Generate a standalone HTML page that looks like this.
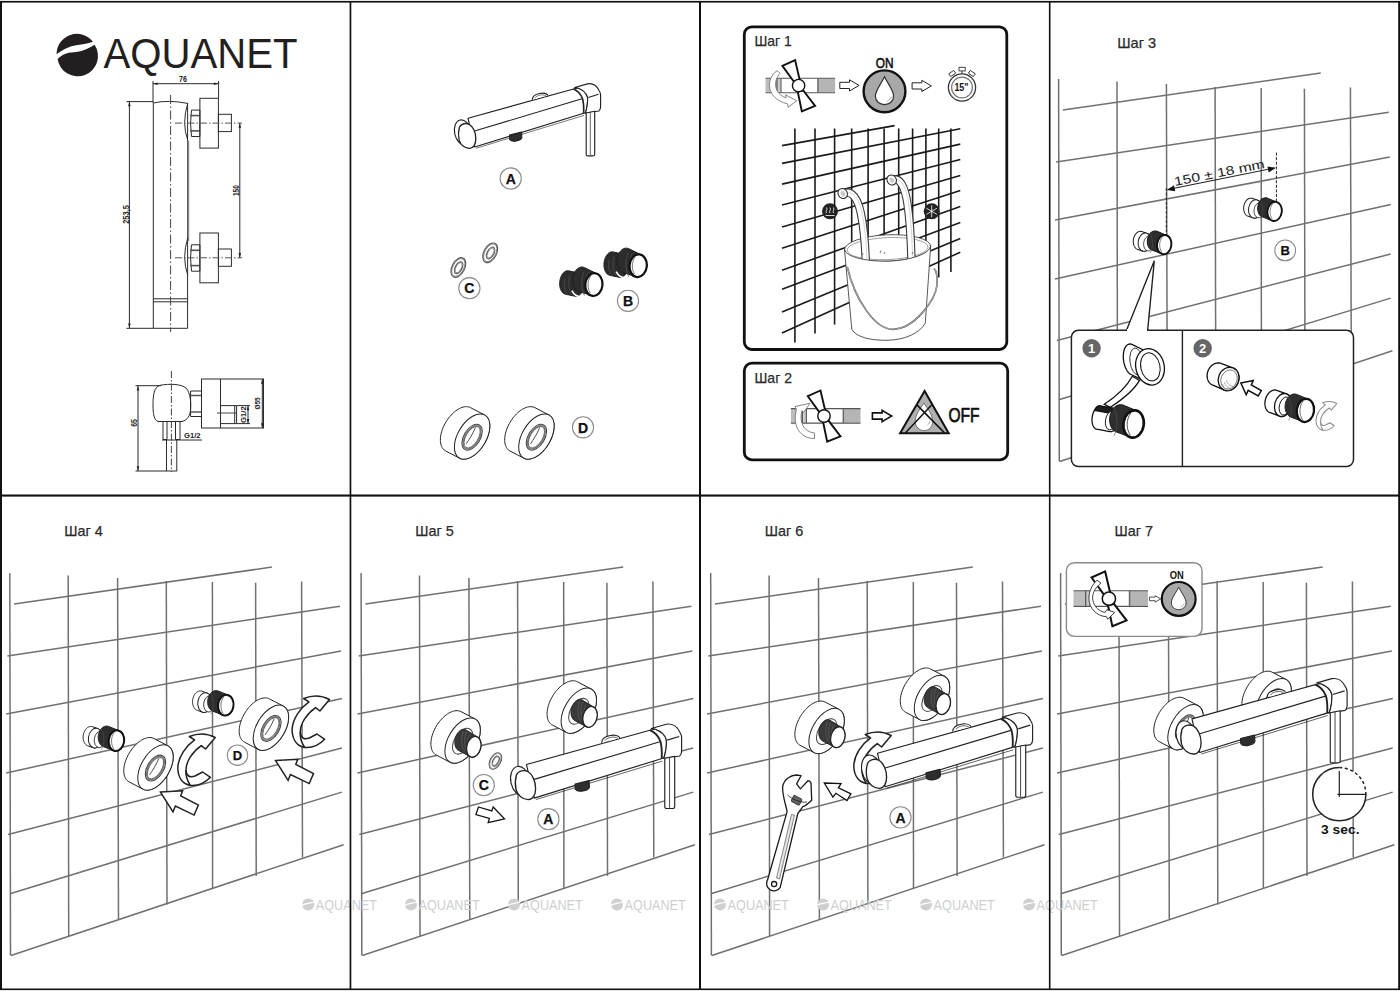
<!DOCTYPE html><html><head><meta charset="utf-8"><title>AQUANET</title><style>html,body{margin:0;padding:0;background:#fff;width:1400px;height:991px;overflow:hidden}text{font-family:"Liberation Sans", sans-serif}</style></head><body><svg width="1400" height="991" viewBox="0 0 1400 991" style="display:block;font-family:'Liberation Sans', sans-serif"><clipPath id="c1"><rect x="0" y="0" width="350" height="495"/></clipPath><clipPath id="c4"><rect x="1050.5" y="2" width="347.5" height="492"/></clipPath><clipPath id="c5"><rect x="2" y="496" width="347.5" height="493"/></clipPath><clipPath id="c6"><rect x="351" y="496" width="348" height="493"/></clipPath><clipPath id="c7"><rect x="701" y="496" width="348" height="493"/></clipPath><clipPath id="c8"><rect x="1050.5" y="496" width="347.5" height="493"/></clipPath><g clip-path="url(#c1)"><path d="M56.6,54.2 A20.3,20.3 0 0 1 93,41.8 C89,43 83,44.6 76.2,45.3 C70,46 63,49.5 56.6,54.2 Z" fill="#231f20"/><path d="M57.6,59 C61,56 63,54.5 65.7,53.7 C70,52.5 73,52.3 76.2,52.1 C80,51.5 83,50.5 86.7,49 C89.5,47.8 92,46.3 94.6,44.8 A20.3,20.3 0 1 1 57.6,59 Z" fill="#231f20"/><text x="103.5" y="68.2" font-size="42.3" fill="#231f20" textLength="194" lengthAdjust="spacingAndGlyphs">AQUANET</text><g stroke="#2a2a2a" stroke-width="1" fill="none"><line x1="153" y1="83.7" x2="218.6" y2="83.7"/><line x1="153" y1="81" x2="153" y2="103"/><line x1="218.6" y1="81" x2="218.6" y2="98.3"/><path d="M153.3,103 L153.3,328.3 L187.6,328.3 L187.6,103.5"/><path d="M153.3,103 Q168,99.6 187.8,103.4"/><line x1="153.3" y1="298.8" x2="187.6" y2="298.8"/><line x1="153.3" y1="301.8" x2="187.6" y2="301.8"/><line x1="188.4" y1="141" x2="188.4" y2="241" stroke="#888" stroke-width="1.6"/><line x1="170.6" y1="95" x2="170.6" y2="332" stroke="#444" stroke-dasharray="9 2.5 1.5 2.5"/><path d="M187.8,103.1 Q181.5,123.1 187.8,140.6"/><path d="M191.5,110.1 L199.9,110.1 L199.9,136.5 L191.5,136.5 Q189.6,123.1 191.5,110.1 Z"/><line x1="190" y1="115.6" x2="199.9" y2="115.6" stroke-width="1.6" stroke="#555"/><line x1="190" y1="130.9" x2="199.9" y2="130.9" stroke-width="1.6" stroke="#555"/><rect x="199.9" y="98.3" width="18.5" height="49.8"/><rect x="218.4" y="114.3" width="13" height="17.3"/><line x1="175" y1="123.1" x2="242" y2="123.1" stroke="#555" stroke-dasharray="7 2 1.5 2"/><path d="M187.8,237.8 Q181.5,257.8 187.8,275.3"/><path d="M191.5,244.8 L199.9,244.8 L199.9,271.2 L191.5,271.2 Q189.6,257.8 191.5,244.8 Z"/><line x1="190" y1="250.3" x2="199.9" y2="250.3" stroke-width="1.6" stroke="#555"/><line x1="190" y1="265.6" x2="199.9" y2="265.6" stroke-width="1.6" stroke="#555"/><rect x="199.9" y="233.0" width="18.5" height="49.8"/><rect x="218.4" y="249.0" width="13" height="17.3"/><line x1="175" y1="257.8" x2="242" y2="257.8" stroke="#555" stroke-dasharray="7 2 1.5 2"/><line x1="129.4" y1="101.6" x2="129.4" y2="328.3"/><line x1="126.5" y1="101.6" x2="153.3" y2="101.6"/><line x1="126.5" y1="328.3" x2="153.3" y2="328.3"/><line x1="239.8" y1="123.1" x2="239.8" y2="257.8"/></g><path d="M153.2,83.7 L157.7,82.4 L157.7,85.0 Z" fill="#222" stroke="none"/><path d="M218.4,83.7 L213.9,82.4 L213.9,85.0 Z" fill="#222" stroke="none"/><path d="M129.4,101.8 L128.1,106.3 L130.70000000000002,106.3 Z" fill="#222" stroke="none"/><path d="M129.4,328.1 L128.1,323.6 L130.70000000000002,323.6 Z" fill="#222" stroke="none"/><path d="M239.8,123.3 L238.5,127.8 L241.10000000000002,127.8 Z" fill="#222" stroke="none"/><path d="M239.8,257.6 L238.5,253.10000000000002 L241.10000000000002,253.10000000000002 Z" fill="#222" stroke="none"/><text x="179" y="81.9" font-size="8.2" font-weight="bold" fill="#222" textLength="7.9" lengthAdjust="spacingAndGlyphs">76</text><text transform="translate(129.2,223.8) rotate(-90)" font-size="9.6" font-weight="bold" fill="#222" textLength="18.7" lengthAdjust="spacingAndGlyphs">253,5</text><text transform="translate(239.4,196) rotate(-90)" font-size="9" font-weight="bold" fill="#222" textLength="10.8" lengthAdjust="spacingAndGlyphs">150</text><g stroke="#2a2a2a" stroke-width="1" fill="none"><line x1="138" y1="385.7" x2="138" y2="471"/><line x1="135.5" y1="385.7" x2="161" y2="385.7"/><line x1="135.5" y1="471" x2="177" y2="471"/><path d="M160,385.3 C170,383.5 181,384 186,388 C191,393 191,405 190.5,410 C190,415 188,420 182,421.5 L158,421.5 C154,420 153,414 153,405 C153,395 154,387 160,385.3 Z"/><line x1="171.4" y1="371" x2="171.4" y2="472" stroke="#444" stroke-dasharray="7 2 1.5 2"/><path d="M166.5,440 L166.5,471 M176.8,440 L176.8,471"/><path d="M163,421.5 L163,439.5 L167,439.5 L167,421.5 M175.5,421.5 L175.5,439.5 L180,439.5 L180,421.5"/><line x1="162" y1="440" x2="202" y2="440"/><path d="M190.6,391 L201.5,391 L201.5,416.5 L190.6,416.5 Z"/><line x1="191" y1="395.5" x2="201.5" y2="395.5" stroke-width="1.5" stroke="#555"/><line x1="191" y1="412" x2="201.5" y2="412" stroke-width="1.5" stroke="#555"/><rect x="201.5" y="379" width="62" height="49"/><line x1="220.5" y1="379" x2="220.5" y2="428"/><path d="M220.5,405.6 L236.6,405.6 L236.6,423.6 L220.5,423.6"/><line x1="234.7" y1="405.6" x2="234.7" y2="423.6"/><line x1="217" y1="413" x2="236" y2="413" stroke="#444"/><line x1="248" y1="405.6" x2="248" y2="423.6"/><line x1="236.6" y1="405.6" x2="250" y2="405.6"/><line x1="236.6" y1="423.6" x2="250" y2="423.6"/><line x1="262.3" y1="379" x2="262.3" y2="428"/></g><path d="M138,385.9 L136.7,390.4 L139.3,390.4 Z" fill="#222" stroke="none"/><path d="M138,470.8 L136.7,466.3 L139.3,466.3 Z" fill="#222" stroke="none"/><path d="M262.3,379.2 L261.0,383.7 L263.6,383.7 Z" fill="#222" stroke="none"/><path d="M262.3,427.8 L261.0,423.3 L263.6,423.3 Z" fill="#222" stroke="none"/><path d="M248,405.8 L246.7,410.3 L249.3,410.3 Z" fill="#222" stroke="none"/><path d="M248,423.4 L246.7,418.9 L249.3,418.9 Z" fill="#222" stroke="none"/><text transform="translate(137.2,426.8) rotate(-90)" font-size="8.5" font-weight="bold" fill="#222" textLength="7.7" lengthAdjust="spacingAndGlyphs">65</text><text x="183.9" y="438.4" font-size="7.4" font-weight="bold" fill="#222" textLength="16.7" lengthAdjust="spacingAndGlyphs">G1/2</text><text transform="translate(246.3,423) rotate(-90)" font-size="8" font-weight="bold" fill="#222" textLength="16.7" lengthAdjust="spacingAndGlyphs">G1/2</text><text transform="translate(259.8,409.5) rotate(-90)" font-size="7.4" font-weight="bold" fill="#222" textLength="12.2" lengthAdjust="spacingAndGlyphs">Ø55</text></g><g transform="translate(467,135.9) scale(1.0)" stroke="#222" stroke-width="1.15" fill="#fff" stroke-linejoin="round"><ellipse cx="-4.2" cy="-3.6" rx="8.2" ry="12.6" transform="rotate(-12 -4.2 -3.6)"/><path d="M1,-17.6 L106.5,-46.9 L110.7,-47.9 C116,-46 119.5,-42.5 120.5,-38.8 C121,-35 120,-27 118.3,-23.2 L7.6,11.1 Z"/><path d="M7.6,-4.9 L115,-37.1" fill="none"/><path d="M9,12.4 L117,-20.5" fill="none" stroke-width="0.6"/><path d="M65.3,-36.2 C65.5,-43 79,-44.5 80.9,-40.3" /><path d="M68,-38 C70,-41 76,-42 79,-40" fill="none" stroke-width="0.6"/><path d="M42.5,-0.8 L54.5,-3.8 L54.8,1.8 C53.5,5 45,6.8 42.7,3.5 Z" fill="#2e2e2e"/><path d="M107.7,-48.4 L120.5,-52 C126,-53 130,-49.5 131.9,-45.6 C133.2,-43.5 133.6,-42 133.6,-40.9 L133.6,-29.1 C133.6,-27 133,-25.8 131.9,-24.9 L118.3,-22.7 C120,-27 121,-35 120.5,-38.8 C119.5,-42.5 116,-46 110.7,-47.9 Z"/><path d="M106.5,-46.9 C110,-45.5 113.5,-42 115.4,-37.6 C116.5,-34 116.8,-27 116.6,-22.7" fill="none" stroke-width="1.6"/><path d="M121.3,-38.4 L131.5,-41.6" fill="none"/><path d="M119.2,-22.9 L127.7,-24.6 L127.7,18.5 C127.7,19.5 126.7,20 125.7,20 L121,20 C120,20 119.2,19.5 119.2,18.5 Z"/><path d="M123.3,-23.5 L123.3,19.5" fill="none" stroke-width="0.7"/><path d="M-7.6,-8.6 C-6,-12.4 -1,-13.2 2.2,-11.6 C6.2,-9.2 8.8,-3.2 8.8,2.8 C8.8,8.2 6.6,12.6 2.4,12.4 C-2.2,12.1 -6.6,9 -7.9,4 C-8.8,0 -8.6,-5 -7.6,-8.6 Z" stroke-width="1.35"/></g><circle cx="510.7" cy="178.5" r="10.6" fill="#fff" stroke="#8a8a8a" stroke-width="1.1"/><text x="510.7" y="183.7" font-size="14" font-weight="bold" text-anchor="middle" fill="#111" stroke="#111" stroke-width="0.25">A</text><g transform="translate(458.3,267.5) rotate(28) scale(1.0)" fill="none" stroke="#555"><ellipse rx="6.3" ry="10.6" stroke-width="1.1"/><ellipse rx="5.4" ry="9.6" stroke-width="0.6"/><ellipse cx="0.4" rx="3.4" ry="6.4" stroke-width="1.1"/><ellipse cx="0.4" rx="2.6" ry="5.5" stroke-width="0.6"/></g><g transform="translate(490.2,252.8) rotate(28) scale(1.0)" fill="none" stroke="#555"><ellipse rx="6.3" ry="10.6" stroke-width="1.1"/><ellipse rx="5.4" ry="9.6" stroke-width="0.6"/><ellipse cx="0.4" rx="3.4" ry="6.4" stroke-width="1.1"/><ellipse cx="0.4" rx="2.6" ry="5.5" stroke-width="0.6"/></g><circle cx="469.4" cy="288.2" r="10.6" fill="#fff" stroke="#8a8a8a" stroke-width="1.1"/><text x="469.4" y="293.4" font-size="14" font-weight="bold" text-anchor="middle" fill="#111" stroke="#111" stroke-width="0.25">C</text><g transform="translate(593.9,284.6) scale(1.0)" stroke="#1e1e1e" stroke-width="1"><path d="M-34.26,-1.22 L-34.23,-2.04 L-34.16,-2.86 L-34.06,-3.68 L-33.92,-4.49 L-33.74,-5.29 L-33.54,-6.07 L-33.30,-6.83 L-33.03,-7.57 L-32.73,-8.28 L-32.40,-8.97 L-32.05,-9.62 L-31.67,-10.23 L-31.27,-10.80 L-30.84,-11.33 L-30.40,-11.82 L-29.94,-12.26 L-29.46,-12.64 L-28.97,-12.98 L-28.48,-13.27 L-27.97,-13.50 L-27.46,-13.67 L-26.95,-13.79 L-26.43,-13.85 L-25.92,-13.85 L-25.41,-13.80 L-15.51,-11.70 L-15.01,-11.59 L-14.52,-11.42 L-14.05,-11.20 L-13.58,-10.93 L-13.14,-10.59 L-12.71,-10.21 L-12.30,-9.78 L-11.92,-9.30 L-11.56,-8.78 L-11.23,-8.21 L-10.92,-7.60 L-10.65,-6.96 L-10.40,-6.28 L-10.19,-5.57 L-10.01,-4.84 L-9.87,-4.08 L-9.76,-3.30 L-9.68,-2.50 L-9.64,-1.69 L-9.64,-0.88 L-9.67,-0.06 L-9.74,0.76 L-9.84,1.58 L-9.98,2.39 L-10.16,3.19 L-10.36,3.97 L-10.60,4.73 L-10.87,5.47 L-11.17,6.18 L-11.50,6.87 L-11.85,7.52 L-12.23,8.13 L-12.63,8.70 L-13.06,9.23 L-13.50,9.72 L-13.96,10.16 L-14.44,10.54 L-14.93,10.88 L-15.42,11.17 L-15.93,11.40 L-16.44,11.57 L-16.95,11.69 L-17.47,11.75 L-17.98,11.75 L-18.49,11.70 L-28.39,9.60 L-28.89,9.49 L-29.38,9.32 L-29.85,9.10 L-30.32,8.83 L-30.76,8.49 L-31.19,8.11 L-31.60,7.68 L-31.98,7.20 L-32.34,6.68 L-32.67,6.11 L-32.98,5.50 L-33.25,4.86 L-33.50,4.18 L-33.71,3.47 L-33.89,2.74 L-34.03,1.98 L-34.14,1.20 L-34.22,0.40 L-34.26,-0.41 Z" fill="#2c2c2c"/><path d="M-22,6 C-20,10 -17,12 -13,12.2" fill="none" stroke="#fff" stroke-width="1.6"/><path d="M-21.25,-4.49 L-21.22,-5.34 L-21.15,-6.20 L-21.04,-7.05 L-20.89,-7.89 L-20.70,-8.72 L-20.47,-9.54 L-20.20,-10.33 L-19.89,-11.10 L-19.55,-11.84 L-19.17,-12.54 L-18.76,-13.22 L-18.33,-13.85 L-17.86,-14.44 L-17.37,-14.99 L-16.85,-15.49 L-16.32,-15.94 L-15.76,-16.34 L-15.19,-16.69 L-14.61,-16.98 L-14.02,-17.21 L-13.42,-17.39 L-12.82,-17.50 L-12.22,-17.56 L-11.61,-17.56 L-11.02,-17.49 L-10.43,-17.37 L-9.85,-17.19 L-9.28,-16.95 L3.23,-10.78 L3.78,-10.50 L4.31,-10.18 L4.82,-9.80 L5.31,-9.37 L5.77,-8.90 L6.20,-8.38 L6.61,-7.82 L6.98,-7.23 L7.32,-6.60 L7.62,-5.94 L7.88,-5.25 L8.11,-4.53 L8.30,-3.79 L8.44,-3.03 L8.55,-2.26 L8.61,-1.48 L8.64,-0.69 L8.62,0.11 L8.55,0.90 L8.45,1.69 L8.30,2.47 L8.12,3.24 L7.89,3.99 L7.63,4.72 L7.33,5.43 L6.99,6.12 L6.62,6.77 L6.22,7.39 L5.79,7.98 L5.32,8.52 L4.84,9.03 L4.33,9.49 L3.79,9.90 L3.24,10.27 L2.68,10.58 L2.10,10.85 L1.51,11.06 L0.91,11.22 L0.31,11.32 L-0.29,11.37 L-0.89,11.36 L-1.49,11.30 L-2.08,11.18 L-2.66,11.01 L-15.35,6.59 L-15.92,6.35 L-16.47,6.06 L-17.00,5.71 L-17.50,5.30 L-17.99,4.84 L-18.45,4.34 L-18.88,3.79 L-19.28,3.19 L-19.65,2.55 L-19.98,1.87 L-20.28,1.16 L-20.53,0.42 L-20.76,-0.35 L-20.94,-1.15 L-21.08,-1.96 L-21.18,-2.79 L-21.23,-3.64 Z" fill="#2c2c2c"/><path d="M-29,-6 C-30.5,0 -29.5,6 -26,10 M-24,-9 C-26,-2 -25.5,5 -22,10.5 M-10,-13 C-13,-6 -13,4 -9.5,11 M-6,-12 C-9,-5 -9,5 -5.5,11.5" fill="none" stroke="#555" stroke-width="0.7"/><ellipse cx="0" cy="0" rx="8.6" ry="11.4" transform="rotate(6)" fill="#fff" stroke="#111" stroke-width="2.2"/><path d="M-3,-9 C-7,-3 -6.5,4 -3.5,8.5" fill="none" stroke="#555" stroke-width="0.8"/></g><g transform="translate(638.2,265.7) scale(1.0)" stroke="#1e1e1e" stroke-width="1"><path d="M-34.26,-1.22 L-34.23,-2.04 L-34.16,-2.86 L-34.06,-3.68 L-33.92,-4.49 L-33.74,-5.29 L-33.54,-6.07 L-33.30,-6.83 L-33.03,-7.57 L-32.73,-8.28 L-32.40,-8.97 L-32.05,-9.62 L-31.67,-10.23 L-31.27,-10.80 L-30.84,-11.33 L-30.40,-11.82 L-29.94,-12.26 L-29.46,-12.64 L-28.97,-12.98 L-28.48,-13.27 L-27.97,-13.50 L-27.46,-13.67 L-26.95,-13.79 L-26.43,-13.85 L-25.92,-13.85 L-25.41,-13.80 L-15.51,-11.70 L-15.01,-11.59 L-14.52,-11.42 L-14.05,-11.20 L-13.58,-10.93 L-13.14,-10.59 L-12.71,-10.21 L-12.30,-9.78 L-11.92,-9.30 L-11.56,-8.78 L-11.23,-8.21 L-10.92,-7.60 L-10.65,-6.96 L-10.40,-6.28 L-10.19,-5.57 L-10.01,-4.84 L-9.87,-4.08 L-9.76,-3.30 L-9.68,-2.50 L-9.64,-1.69 L-9.64,-0.88 L-9.67,-0.06 L-9.74,0.76 L-9.84,1.58 L-9.98,2.39 L-10.16,3.19 L-10.36,3.97 L-10.60,4.73 L-10.87,5.47 L-11.17,6.18 L-11.50,6.87 L-11.85,7.52 L-12.23,8.13 L-12.63,8.70 L-13.06,9.23 L-13.50,9.72 L-13.96,10.16 L-14.44,10.54 L-14.93,10.88 L-15.42,11.17 L-15.93,11.40 L-16.44,11.57 L-16.95,11.69 L-17.47,11.75 L-17.98,11.75 L-18.49,11.70 L-28.39,9.60 L-28.89,9.49 L-29.38,9.32 L-29.85,9.10 L-30.32,8.83 L-30.76,8.49 L-31.19,8.11 L-31.60,7.68 L-31.98,7.20 L-32.34,6.68 L-32.67,6.11 L-32.98,5.50 L-33.25,4.86 L-33.50,4.18 L-33.71,3.47 L-33.89,2.74 L-34.03,1.98 L-34.14,1.20 L-34.22,0.40 L-34.26,-0.41 Z" fill="#2c2c2c"/><path d="M-22,6 C-20,10 -17,12 -13,12.2" fill="none" stroke="#fff" stroke-width="1.6"/><path d="M-21.25,-4.49 L-21.22,-5.34 L-21.15,-6.20 L-21.04,-7.05 L-20.89,-7.89 L-20.70,-8.72 L-20.47,-9.54 L-20.20,-10.33 L-19.89,-11.10 L-19.55,-11.84 L-19.17,-12.54 L-18.76,-13.22 L-18.33,-13.85 L-17.86,-14.44 L-17.37,-14.99 L-16.85,-15.49 L-16.32,-15.94 L-15.76,-16.34 L-15.19,-16.69 L-14.61,-16.98 L-14.02,-17.21 L-13.42,-17.39 L-12.82,-17.50 L-12.22,-17.56 L-11.61,-17.56 L-11.02,-17.49 L-10.43,-17.37 L-9.85,-17.19 L-9.28,-16.95 L3.23,-10.78 L3.78,-10.50 L4.31,-10.18 L4.82,-9.80 L5.31,-9.37 L5.77,-8.90 L6.20,-8.38 L6.61,-7.82 L6.98,-7.23 L7.32,-6.60 L7.62,-5.94 L7.88,-5.25 L8.11,-4.53 L8.30,-3.79 L8.44,-3.03 L8.55,-2.26 L8.61,-1.48 L8.64,-0.69 L8.62,0.11 L8.55,0.90 L8.45,1.69 L8.30,2.47 L8.12,3.24 L7.89,3.99 L7.63,4.72 L7.33,5.43 L6.99,6.12 L6.62,6.77 L6.22,7.39 L5.79,7.98 L5.32,8.52 L4.84,9.03 L4.33,9.49 L3.79,9.90 L3.24,10.27 L2.68,10.58 L2.10,10.85 L1.51,11.06 L0.91,11.22 L0.31,11.32 L-0.29,11.37 L-0.89,11.36 L-1.49,11.30 L-2.08,11.18 L-2.66,11.01 L-15.35,6.59 L-15.92,6.35 L-16.47,6.06 L-17.00,5.71 L-17.50,5.30 L-17.99,4.84 L-18.45,4.34 L-18.88,3.79 L-19.28,3.19 L-19.65,2.55 L-19.98,1.87 L-20.28,1.16 L-20.53,0.42 L-20.76,-0.35 L-20.94,-1.15 L-21.08,-1.96 L-21.18,-2.79 L-21.23,-3.64 Z" fill="#2c2c2c"/><path d="M-29,-6 C-30.5,0 -29.5,6 -26,10 M-24,-9 C-26,-2 -25.5,5 -22,10.5 M-10,-13 C-13,-6 -13,4 -9.5,11 M-6,-12 C-9,-5 -9,5 -5.5,11.5" fill="none" stroke="#555" stroke-width="0.7"/><ellipse cx="0" cy="0" rx="8.6" ry="11.4" transform="rotate(6)" fill="#fff" stroke="#111" stroke-width="2.2"/><path d="M-3,-9 C-7,-3 -6.5,4 -3.5,8.5" fill="none" stroke="#555" stroke-width="0.8"/></g><circle cx="628" cy="300.8" r="10.6" fill="#fff" stroke="#8a8a8a" stroke-width="1.1"/><text x="628" y="306.0" font-size="14" font-weight="bold" text-anchor="middle" fill="#111" stroke="#111" stroke-width="0.25">B</text><g transform="translate(472.1,436.6) scale(1.0)" stroke="#222" stroke-width="1.00" fill="#fff"><path d="M-31.71,3.73 L-31.70,2.33 L-31.60,0.87 L-31.42,-0.62 L-31.15,-2.15 L-30.79,-3.70 L-30.36,-5.27 L-29.84,-6.84 L-29.25,-8.42 L-28.58,-10.00 L-27.85,-11.56 L-27.04,-13.10 L-26.17,-14.61 L-25.24,-16.09 L-24.26,-17.52 L-23.23,-18.91 L-22.15,-20.24 L-21.03,-21.50 L-19.88,-22.70 L-18.70,-23.82 L-17.50,-24.86 L-16.28,-25.81 L-15.05,-26.68 L-13.81,-27.45 L-12.58,-28.12 L-11.35,-28.69 L-10.13,-29.16 L-8.93,-29.51 L-7.76,-29.77 L-6.62,-29.91 L-5.52,-29.94 L-4.45,-29.86 L-3.43,-29.67 L-2.47,-29.38 L-1.56,-28.97 L12.44,-21.67 L13.29,-21.16 L14.08,-20.55 L14.79,-19.83 L15.44,-19.02 L16.01,-18.12 L16.50,-17.13 L16.91,-16.05 L17.24,-14.90 L17.48,-13.68 L17.64,-12.38 L17.71,-11.03 L17.70,-9.63 L17.60,-8.17 L17.42,-6.68 L17.15,-5.15 L16.79,-3.60 L16.36,-2.03 L15.84,-0.46 L15.25,1.12 L14.58,2.70 L13.85,4.26 L13.04,5.80 L12.17,7.31 L11.24,8.79 L10.26,10.22 L9.23,11.61 L8.15,12.94 L7.03,14.20 L5.88,15.40 L4.70,16.52 L3.50,17.56 L2.28,18.51 L1.05,19.38 L-0.19,20.15 L-1.42,20.82 L-2.65,21.39 L-3.87,21.86 L-5.07,22.21 L-6.24,22.47 L-7.38,22.61 L-8.48,22.64 L-9.55,22.56 L-10.57,22.37 L-11.53,22.08 L-12.44,21.67 L-26.44,14.37 L-27.29,13.86 L-28.08,13.25 L-28.79,12.53 L-29.44,11.72 L-30.01,10.82 L-30.50,9.83 L-30.91,8.75 L-31.24,7.60 L-31.48,6.38 L-31.64,5.08 Z"/><ellipse cx="0" cy="0" rx="14.2" ry="25.0" transform="rotate(31)"/><ellipse cx="0" cy="0.6" rx="8.2" ry="14.2" transform="rotate(31 0 0.6)" stroke="#444" stroke-width="1.1"/><ellipse cx="0" cy="0.6" rx="7.0" ry="12.9" transform="rotate(31 0 0.6)" stroke="#777" stroke-width="1.3" fill="none"/><ellipse cx="0" cy="0.6" rx="6.1" ry="12.0" transform="rotate(31 0 0.6)" stroke="#444" stroke-width="0.7" fill="none"/><path d="M3.3,-9.2 C1,-3 -3,3 -5.9,7.2" fill="none" stroke-width="0.8"/></g><g transform="translate(536.4,436.6) scale(1.0)" stroke="#222" stroke-width="1.00" fill="#fff"><path d="M-31.71,3.73 L-31.70,2.33 L-31.60,0.87 L-31.42,-0.62 L-31.15,-2.15 L-30.79,-3.70 L-30.36,-5.27 L-29.84,-6.84 L-29.25,-8.42 L-28.58,-10.00 L-27.85,-11.56 L-27.04,-13.10 L-26.17,-14.61 L-25.24,-16.09 L-24.26,-17.52 L-23.23,-18.91 L-22.15,-20.24 L-21.03,-21.50 L-19.88,-22.70 L-18.70,-23.82 L-17.50,-24.86 L-16.28,-25.81 L-15.05,-26.68 L-13.81,-27.45 L-12.58,-28.12 L-11.35,-28.69 L-10.13,-29.16 L-8.93,-29.51 L-7.76,-29.77 L-6.62,-29.91 L-5.52,-29.94 L-4.45,-29.86 L-3.43,-29.67 L-2.47,-29.38 L-1.56,-28.97 L12.44,-21.67 L13.29,-21.16 L14.08,-20.55 L14.79,-19.83 L15.44,-19.02 L16.01,-18.12 L16.50,-17.13 L16.91,-16.05 L17.24,-14.90 L17.48,-13.68 L17.64,-12.38 L17.71,-11.03 L17.70,-9.63 L17.60,-8.17 L17.42,-6.68 L17.15,-5.15 L16.79,-3.60 L16.36,-2.03 L15.84,-0.46 L15.25,1.12 L14.58,2.70 L13.85,4.26 L13.04,5.80 L12.17,7.31 L11.24,8.79 L10.26,10.22 L9.23,11.61 L8.15,12.94 L7.03,14.20 L5.88,15.40 L4.70,16.52 L3.50,17.56 L2.28,18.51 L1.05,19.38 L-0.19,20.15 L-1.42,20.82 L-2.65,21.39 L-3.87,21.86 L-5.07,22.21 L-6.24,22.47 L-7.38,22.61 L-8.48,22.64 L-9.55,22.56 L-10.57,22.37 L-11.53,22.08 L-12.44,21.67 L-26.44,14.37 L-27.29,13.86 L-28.08,13.25 L-28.79,12.53 L-29.44,11.72 L-30.01,10.82 L-30.50,9.83 L-30.91,8.75 L-31.24,7.60 L-31.48,6.38 L-31.64,5.08 Z"/><ellipse cx="0" cy="0" rx="14.2" ry="25.0" transform="rotate(31)"/><ellipse cx="0" cy="0.6" rx="8.2" ry="14.2" transform="rotate(31 0 0.6)" stroke="#444" stroke-width="1.1"/><ellipse cx="0" cy="0.6" rx="7.0" ry="12.9" transform="rotate(31 0 0.6)" stroke="#777" stroke-width="1.3" fill="none"/><ellipse cx="0" cy="0.6" rx="6.1" ry="12.0" transform="rotate(31 0 0.6)" stroke="#444" stroke-width="0.7" fill="none"/><path d="M3.3,-9.2 C1,-3 -3,3 -5.9,7.2" fill="none" stroke-width="0.8"/></g><circle cx="583" cy="427.3" r="10.6" fill="#fff" stroke="#8a8a8a" stroke-width="1.1"/><text x="583" y="432.5" font-size="14" font-weight="bold" text-anchor="middle" fill="#111" stroke="#111" stroke-width="0.25">D</text><rect x="744.3" y="26.9" width="262.5" height="322.6" rx="7.5" fill="#fff" stroke="#111" stroke-width="2.8"/><text x="754.4" y="46.3" font-size="15" fill="#2a2a2a" stroke="#2a2a2a" stroke-width="0.25" textLength="37.5" lengthAdjust="spacingAndGlyphs">Шаг 1</text><g transform="translate(798.6,85.6) scale(1.0)"><rect x="-33.1" y="-7.7" width="69.6" height="14.8" fill="#fff"/><rect x="-33.1" y="-7.2" width="11" height="13.8" fill="#bdbdbd"/><rect x="-20.5" y="-7.2" width="2.5" height="13.8" fill="#c8c8c8"/><rect x="20.2" y="-7.2" width="16.3" height="13.8" fill="#b5b5b5"/><g stroke="#555" stroke-width="1.1"><line x1="-33.1" y1="-7.4" x2="36.5" y2="-7.4"/><line x1="-33.1" y1="7.1" x2="36.5" y2="7.1"/><line x1="-21.6" y1="-7.4" x2="-21.6" y2="7.1" stroke-width="1.4"/><line x1="-17.6" y1="-7.4" x2="-17.6" y2="7.1"/><line x1="19.4" y1="-7.4" x2="19.4" y2="7.1" stroke-width="1.6" stroke="#666"/></g><path d="M-21.5,-15 L-18.5,-12.3 C-25.5,-5 -25,8 -12.5,12.3 L-13,9.2 L-2,15.2 L-10.5,21.8 L-11,18.3 C-33,13 -33,-7 -21.5,-15 Z" fill="#fff" stroke="#777" stroke-width="0.9"/><g fill="#fff" stroke="#111" stroke-width="1.9" stroke-linejoin="miter"><path d="M-16.2,-19.8 L-3.5,-25.5 L1.1,-5.8 L-4.7,-3.9 Z"/><path d="M3.2,25.7 L16.5,20.3 L4.7,4.9 L-0.9,5.9 Z"/><circle r="6.2" stroke-width="1.4"/></g></g><path transform="translate(839.8,85.4) scale(1.0)" d="M0,-3.1 L9.7,-3.1 L9.7,-5.6 L19.3,0 L9.7,5.6 L9.7,3.1 L0,3.1 Z" fill="#fff" stroke="#222" stroke-width="1.0" stroke-linejoin="miter"/><g transform="translate(884.5,91.3)"><circle r="20.9" fill="#a8a8a8" stroke="#111" stroke-width="2.4"/><g transform="scale(1.0)"><path d="M0,-14.5 C3,-8 9.1,-1 9.1,4.7 C9.1,10 5,13.3 0,13.3 C-5,13.3 -9.1,10 -9.1,4.7 C-9.1,-1 -3,-8 0,-14.5 Z" fill="#fff" stroke="#333" stroke-width="1.2"/><path d="M2.5,10 C5,9 6.5,7 6.8,5" fill="none" stroke="#999" stroke-width="0.9"/></g></g><text x="884.6" y="67.7" font-size="13.8" text-anchor="middle" fill="#111" stroke="#111" stroke-width="0.55" textLength="17.8" lengthAdjust="spacingAndGlyphs">ON</text><path transform="translate(912.1,85.9) scale(1.0)" d="M0,-3.1 L9.7,-3.1 L9.7,-5.6 L19.3,0 L9.7,5.6 L9.7,3.1 L0,3.1 Z" fill="#fff" stroke="#222" stroke-width="1.0" stroke-linejoin="miter"/><g transform="translate(962,87.5)"><rect x="-3" y="-20.2" width="6.2" height="3.6" fill="#fff" stroke="#333" stroke-width="0.9"/><line x1="0" y1="-16.6" x2="0" y2="-13.6" stroke="#333" stroke-width="1"/><rect x="-3" y="-1.8" width="6" height="3.4" transform="rotate(-35) translate(0,-17)" fill="#fff" stroke="#333" stroke-width="0.9"/><rect x="-3" y="-1.8" width="6" height="3.4" transform="rotate(35) translate(0,-17)" fill="#fff" stroke="#333" stroke-width="0.9"/><circle r="13.6" fill="#fff" stroke="#333" stroke-width="1.3"/><circle r="10.4" fill="none" stroke="#777" stroke-width="1.2"/><text x="-0.6" y="3.9" font-size="10.5" font-weight="bold" text-anchor="middle" fill="#111" textLength="14" lengthAdjust="spacingAndGlyphs">15"</text></g><g stroke="#1a1a1a" stroke-width="1.6"><line x1="794.9" y1="128.5" x2="794.9" y2="342.5"/><line x1="815.0" y1="128.5" x2="815.0" y2="333.5"/><line x1="834.6" y1="128.5" x2="834.6" y2="324.6"/><line x1="851.7" y1="128.5" x2="851.7" y2="316.9"/><line x1="868.1" y1="128.5" x2="868.1" y2="309.5"/><line x1="884.1" y1="128.5" x2="884.1" y2="302.2"/><line x1="898.7" y1="128.5" x2="898.7" y2="295.6"/><line x1="912.6" y1="128.5" x2="912.6" y2="289.3"/><line x1="925.9" y1="128.5" x2="925.9" y2="283.3"/><line x1="938.7" y1="128.5" x2="938.7" y2="277.5"/><line x1="950.9" y1="128.5" x2="950.9" y2="272.0"/><line x1="782" y1="145.6" x2="894.6" y2="125.6"/><line x1="782" y1="163.4" x2="960.3" y2="128.8"/><line x1="782" y1="184.1" x2="960.3" y2="144.1"/><line x1="782" y1="205.0" x2="960.3" y2="159.5"/><line x1="782" y1="227.0" x2="960.3" y2="175.4"/><line x1="782" y1="248.3" x2="960.3" y2="190.4"/><line x1="782" y1="270.2" x2="960.3" y2="206.5"/><line x1="782" y1="289.2" x2="960.3" y2="222.5"/><line x1="782" y1="311.9" x2="960.3" y2="238.6"/><line x1="782" y1="333.1" x2="960.3" y2="252.2"/></g><circle cx="830" cy="211.3" r="8" fill="#222"/><g stroke="#fff" stroke-width="0.8" fill="none"><path d="M826.5,213 c-1.5,-2 1.5,-3 0,-5.5 M830,213 c-1.5,-2 1.5,-3 0,-5.5 M833.5,213 c-1.5,-2 1.5,-3 0,-5.5"/><line x1="825.5" y1="215.5" x2="834.5" y2="215.5"/></g><circle cx="931.7" cy="211.3" r="8" fill="#222"/><g stroke="#fff" stroke-width="0.8"><line x1="931.7" y1="205.3" x2="931.7" y2="217.3"/><line x1="926.5" y1="208.3" x2="936.9" y2="214.3"/><line x1="926.5" y1="214.3" x2="936.9" y2="208.3"/></g><ellipse cx="887.6" cy="248" rx="43.1" ry="13.2" transform="rotate(-2.4 887.6 248)" fill="#fff" stroke="#444" stroke-width="0.9"/><ellipse cx="887.6" cy="248.6" rx="40.5" ry="11" transform="rotate(-2.4 887.6 248.6)" fill="none" stroke="#666" stroke-width="0.6"/><path d="M843,193.5 C852,189.5 858,199 861,214 C864,229 865.2,244 865.8,262" fill="none" stroke="#3a3a3a" stroke-width="8.4"/><path d="M843,193.5 C852,189.5 858,199 861,214 C864,229 865.2,244 865.8,262" fill="none" stroke="#fff" stroke-width="6.2"/><path d="M843,193.5 C852,189.5 858,199 861,214 C864,229 865.2,244 865.8,262" fill="none" stroke="#bbb" stroke-width="0.6" transform="translate(1.2,0)"/><path d="M892,180 C900,176.5 905,187 907.5,204 C910,221 911,240 911.5,262" fill="none" stroke="#3a3a3a" stroke-width="8.4"/><path d="M892,180 C900,176.5 905,187 907.5,204 C910,221 911,240 911.5,262" fill="none" stroke="#fff" stroke-width="6.2"/><path d="M892,180 C900,176.5 905,187 907.5,204 C910,221 911,240 911.5,262" fill="none" stroke="#bbb" stroke-width="0.6" transform="translate(1.2,0)"/><ellipse cx="842.7" cy="193.5" rx="4.6" ry="5.2" transform="rotate(-30 842.7 193.5)" fill="#fff" stroke="#333" stroke-width="1.1"/><ellipse cx="842.9" cy="193.7" rx="2.2" ry="2.8" transform="rotate(-30 842.9 193.7)" fill="#ccc" stroke="none"/><ellipse cx="891.7" cy="180" rx="4.6" ry="5.2" transform="rotate(-30 891.7 180)" fill="#fff" stroke="#333" stroke-width="1.1"/><ellipse cx="891.9" cy="180.2" rx="2.2" ry="2.8" transform="rotate(-30 891.9 180.2)" fill="#ccc" stroke="none"/><path d="M844.5,249.5 C846,257 866,261.5 888,261.2 C910,260.5 930,254 930.7,245.5 L925.3,323 C920,333 905,340 887,340.3 C870,340.5 856,337 851.8,329.3 Z" fill="#fff" stroke="#444" stroke-width="0.9"/><path d="M847.2,266.7 C855,300 875,329 892.6,329.3 C915,329 935,300 937.1,285 C937.5,277 936.5,271 934,268.5" fill="none" stroke="#555" stroke-width="1.7"/><path d="M847.2,266.7 C855,300 875,329 892.6,329.3 C915,329 935,300 937.1,285 C937.5,277 936.5,271 934,268.5" fill="none" stroke="#fff" stroke-width="0.5"/><path d="M862,255 l1,-2 M880,253 l1,-2.5 M884,254 l1,-2 M912,254 l1,-2" stroke="#555" stroke-width="0.8"/><rect x="744.3" y="363.2" width="263.4" height="96.6" rx="7.5" fill="#fff" stroke="#111" stroke-width="2.8"/><text x="754.5" y="383" font-size="15" fill="#2a2a2a" stroke="#2a2a2a" stroke-width="0.25" textLength="37.5" lengthAdjust="spacingAndGlyphs">Шаг 2</text><g transform="translate(824,416) scale(1.0)"><rect x="-33.1" y="-7.7" width="69.6" height="14.8" fill="#fff"/><rect x="-33.1" y="-7.2" width="11" height="13.8" fill="#bdbdbd"/><rect x="-20.5" y="-7.2" width="2.5" height="13.8" fill="#c8c8c8"/><rect x="20.2" y="-7.2" width="16.3" height="13.8" fill="#b5b5b5"/><g stroke="#555" stroke-width="1.1"><line x1="-33.1" y1="-7.4" x2="36.5" y2="-7.4"/><line x1="-33.1" y1="7.1" x2="36.5" y2="7.1"/><line x1="-21.6" y1="-7.4" x2="-21.6" y2="7.1" stroke-width="1.4"/><line x1="-17.6" y1="-7.4" x2="-17.6" y2="7.1"/><line x1="19.4" y1="-7.4" x2="19.4" y2="7.1" stroke-width="1.6" stroke="#666"/></g><path d="M-9.5,22.5 C-24,22.5 -32,10 -27.5,-6.5 L-29,-9.5 L-14,-12.7 L-20.5,-3.5 L-22,-5.5 C-25,5 -21,16 -9.5,17 Z" fill="#fff" stroke="#777" stroke-width="0.9"/><g fill="#fff" stroke="#111" stroke-width="1.9" stroke-linejoin="miter"><path d="M-16.2,-19.8 L-3.5,-25.5 L1.1,-5.8 L-4.7,-3.9 Z"/><path d="M3.2,25.7 L16.5,20.3 L4.7,4.9 L-0.9,5.9 Z"/><circle r="6.2" stroke-width="1.4"/></g></g><path transform="translate(872.4,416) scale(1.0)" d="M0,-3.1 L9.7,-3.1 L9.7,-5.6 L19.3,0 L9.7,5.6 L9.7,3.1 L0,3.1 Z" fill="#fff" stroke="#111" stroke-width="1.6" stroke-linejoin="miter"/><path d="M924.6,391.1 L948.7,433.2 L900.1,433.2 Z" fill="#b0b0b0" stroke="#111" stroke-width="2" stroke-linejoin="miter"/><path d="M923.8,403 C921,408 915.2,414 915.2,421.5 C915.2,427 919.5,430.6 924.2,430.6 C929,430.6 932.6,427 932.6,421.5 C932.6,414 927,408 923.8,403 Z" fill="#fff" stroke="#666" stroke-width="0.9"/><path d="M927.5,425 C929,424 929.8,422.5 930,421" fill="none" stroke="#888" stroke-width="0.8"/><path d="M916.9,404.9 L944.5,432.9 M931.6,404.9 L905.3,432.9" fill="none" stroke="#111" stroke-width="1.5"/><text x="948.5" y="421.6" font-size="19.8" fill="#111" stroke="#111" stroke-width="0.75" textLength="31" lengthAdjust="spacingAndGlyphs">OFF</text><g clip-path="url(#c4)"><text x="1117.2" y="47.5" font-size="15" fill="#2a2a2a" stroke="#2a2a2a" stroke-width="0.25" textLength="39" lengthAdjust="spacingAndGlyphs">Шаг 3</text><g transform="translate(1048.8,-494)" stroke="#707070" stroke-width="1.5"><line x1="9.8" y1="573" x2="10.5" y2="955.5"/><line x1="68.2" y1="575.6" x2="68.7" y2="936"/><line x1="117.6" y1="578" x2="118.5" y2="920"/><line x1="166.3" y1="581" x2="167" y2="904.5"/><line x1="212.4" y1="582.1" x2="212.6" y2="888.5"/><line x1="255.6" y1="582.7" x2="256.2" y2="876"/><line x1="301.6" y1="581.5" x2="302.5" y2="857.5"/><line x1="14.1" y1="603.9" x2="271.9" y2="567.1"/><line x1="7.4" y1="656" x2="340" y2="606.2"/><line x1="6.2" y1="713.9" x2="341" y2="651"/><line x1="6.2" y1="773" x2="342" y2="698.4"/><line x1="8" y1="834.5" x2="341.9" y2="748"/><line x1="10" y1="893.7" x2="341.9" y2="792.1"/><line x1="11" y1="955.5" x2="343.6" y2="844.7"/></g><g stroke="#222" stroke-width="1" fill="none"><line x1="1166.3" y1="188" x2="1166.3" y2="232" stroke-dasharray="3 1.6"/><line x1="1276.4" y1="152.6" x2="1276.4" y2="206" stroke-dasharray="3 1.6"/><line x1="1168" y1="189.5" x2="1274.6" y2="168" stroke-width="1.1"/></g><path d="M1166.8,189.9 L1174,185.3 L1175.2,191.3 Z" fill="#111"/><path d="M1275.8,167.8 L1268.7,172.5 L1267.5,166.5 Z" fill="#111"/><text transform="translate(1175,186) rotate(-11.4)" font-size="12.5" fill="#222" textLength="92" lengthAdjust="spacingAndGlyphs">150 ± 18 mm</text><g transform="translate(1164.2,244.6) scale(0.93)" stroke="#1e1e1e" stroke-width="1.08"><path d="M-33.27,-3.31 L-33.26,-4.00 L-33.21,-4.69 L-33.13,-5.37 L-33.02,-6.06 L-32.87,-6.73 L-32.69,-7.39 L-32.48,-8.04 L-32.24,-8.67 L-31.97,-9.28 L-31.67,-9.86 L-31.35,-10.42 L-31.00,-10.95 L-30.62,-11.45 L-30.23,-11.91 L-29.81,-12.34 L-29.38,-12.73 L-28.93,-13.07 L-28.47,-13.38 L-28.00,-13.64 L-27.52,-13.85 L-27.03,-14.02 L-26.54,-14.15 L-26.05,-14.22 L-25.55,-14.25 L-25.06,-14.23 L-24.58,-14.16 L-24.11,-14.05 L-18.91,-12.25 L-18.44,-12.09 L-17.99,-11.88 L-17.55,-11.62 L-17.13,-11.32 L-16.72,-10.98 L-16.34,-10.60 L-15.98,-10.18 L-15.65,-9.73 L-15.34,-9.23 L-15.06,-8.71 L-14.80,-8.16 L-14.58,-7.57 L-14.39,-6.97 L-14.23,-6.34 L-14.11,-5.70 L-14.01,-5.04 L-13.96,-4.37 L-13.93,-3.69 L-13.94,-3.00 L-13.99,-2.31 L-14.07,-1.63 L-14.18,-0.94 L-14.33,-0.27 L-14.51,0.39 L-14.72,1.04 L-14.96,1.67 L-15.23,2.28 L-15.53,2.86 L-15.85,3.42 L-16.20,3.95 L-16.58,4.45 L-16.97,4.91 L-17.39,5.34 L-17.82,5.73 L-18.27,6.07 L-18.73,6.38 L-19.20,6.64 L-19.68,6.85 L-20.17,7.02 L-20.66,7.15 L-21.15,7.22 L-21.65,7.25 L-22.14,7.23 L-22.62,7.16 L-23.09,7.05 L-28.29,5.25 L-28.76,5.09 L-29.21,4.88 L-29.65,4.62 L-30.07,4.32 L-30.48,3.98 L-30.86,3.60 L-31.22,3.18 L-31.55,2.73 L-31.86,2.23 L-32.14,1.71 L-32.40,1.16 L-32.62,0.57 L-32.81,-0.03 L-32.97,-0.66 L-33.09,-1.30 L-33.19,-1.96 L-33.24,-2.63 Z" fill="#fff"/><ellipse cx="-21" cy="-2.6" rx="7" ry="9.9" transform="rotate(8 -21 -2.6)" fill="#fff"/><ellipse cx="-16.5" cy="-1.3" rx="5.6" ry="8.2" transform="rotate(8 -16.5 -1.3)" fill="#fff" stroke-width="0.8"/><path d="M-18.17,-3.07 L-18.16,-3.80 L-18.11,-4.53 L-18.03,-5.26 L-17.91,-5.98 L-17.75,-6.69 L-17.56,-7.40 L-17.33,-8.08 L-17.07,-8.75 L-16.78,-9.40 L-16.46,-10.02 L-16.11,-10.61 L-15.73,-11.17 L-15.33,-11.69 L-14.90,-12.18 L-14.45,-12.63 L-13.98,-13.04 L-13.50,-13.41 L-13.00,-13.73 L-12.49,-14.01 L-11.96,-14.24 L-11.44,-14.42 L-10.90,-14.54 L-10.37,-14.62 L-9.83,-14.65 L-9.30,-14.63 L-8.78,-14.55 L-8.26,-14.43 L-7.75,-14.26 L2.75,-9.96 L3.25,-9.73 L3.73,-9.46 L4.20,-9.15 L4.64,-8.79 L5.07,-8.38 L5.46,-7.94 L5.84,-7.46 L6.18,-6.94 L6.49,-6.38 L6.77,-5.80 L7.02,-5.19 L7.23,-4.55 L7.41,-3.89 L7.55,-3.21 L7.66,-2.52 L7.73,-1.81 L7.76,-1.09 L7.75,-0.37 L7.71,0.35 L7.63,1.07 L7.51,1.79 L7.35,2.49 L7.16,3.19 L6.93,3.87 L6.67,4.53 L6.38,5.17 L6.05,5.78 L5.70,6.37 L5.32,6.92 L4.91,7.44 L4.48,7.93 L4.03,8.37 L3.55,8.78 L3.06,9.14 L2.56,9.45 L2.04,9.73 L1.51,9.95 L0.98,10.13 L0.44,10.25 L-0.10,10.33 L-0.64,10.35 L-1.18,10.33 L-1.71,10.26 L-2.24,10.13 L-2.75,9.96 L-13.25,5.86 L-13.74,5.63 L-14.22,5.36 L-14.67,5.04 L-15.11,4.68 L-15.53,4.28 L-15.92,3.83 L-16.29,3.34 L-16.62,2.82 L-16.93,2.26 L-17.20,1.67 L-17.45,1.06 L-17.66,0.41 L-17.83,-0.25 L-17.97,-0.94 L-18.07,-1.64 L-18.14,-2.35 Z" fill="#2e2e2e"/><path d="M-15,-12 C-12,-6 -11.5,4 -15,9" fill="none" stroke="#555" stroke-width="0.5"/><ellipse cx="0" cy="0" rx="7.7" ry="10.4" transform="rotate(8)" fill="#fff" stroke="#111" stroke-width="2"/><path d="M-2,-8.5 C-6,-3 -5.5,4 -2.5,8.5" fill="none" stroke="#444" stroke-width="0.7"/></g><g transform="translate(1274.6,211.4) scale(0.93)" stroke="#1e1e1e" stroke-width="1.08"><path d="M-33.27,-3.31 L-33.26,-4.00 L-33.21,-4.69 L-33.13,-5.37 L-33.02,-6.06 L-32.87,-6.73 L-32.69,-7.39 L-32.48,-8.04 L-32.24,-8.67 L-31.97,-9.28 L-31.67,-9.86 L-31.35,-10.42 L-31.00,-10.95 L-30.62,-11.45 L-30.23,-11.91 L-29.81,-12.34 L-29.38,-12.73 L-28.93,-13.07 L-28.47,-13.38 L-28.00,-13.64 L-27.52,-13.85 L-27.03,-14.02 L-26.54,-14.15 L-26.05,-14.22 L-25.55,-14.25 L-25.06,-14.23 L-24.58,-14.16 L-24.11,-14.05 L-18.91,-12.25 L-18.44,-12.09 L-17.99,-11.88 L-17.55,-11.62 L-17.13,-11.32 L-16.72,-10.98 L-16.34,-10.60 L-15.98,-10.18 L-15.65,-9.73 L-15.34,-9.23 L-15.06,-8.71 L-14.80,-8.16 L-14.58,-7.57 L-14.39,-6.97 L-14.23,-6.34 L-14.11,-5.70 L-14.01,-5.04 L-13.96,-4.37 L-13.93,-3.69 L-13.94,-3.00 L-13.99,-2.31 L-14.07,-1.63 L-14.18,-0.94 L-14.33,-0.27 L-14.51,0.39 L-14.72,1.04 L-14.96,1.67 L-15.23,2.28 L-15.53,2.86 L-15.85,3.42 L-16.20,3.95 L-16.58,4.45 L-16.97,4.91 L-17.39,5.34 L-17.82,5.73 L-18.27,6.07 L-18.73,6.38 L-19.20,6.64 L-19.68,6.85 L-20.17,7.02 L-20.66,7.15 L-21.15,7.22 L-21.65,7.25 L-22.14,7.23 L-22.62,7.16 L-23.09,7.05 L-28.29,5.25 L-28.76,5.09 L-29.21,4.88 L-29.65,4.62 L-30.07,4.32 L-30.48,3.98 L-30.86,3.60 L-31.22,3.18 L-31.55,2.73 L-31.86,2.23 L-32.14,1.71 L-32.40,1.16 L-32.62,0.57 L-32.81,-0.03 L-32.97,-0.66 L-33.09,-1.30 L-33.19,-1.96 L-33.24,-2.63 Z" fill="#fff"/><ellipse cx="-21" cy="-2.6" rx="7" ry="9.9" transform="rotate(8 -21 -2.6)" fill="#fff"/><ellipse cx="-16.5" cy="-1.3" rx="5.6" ry="8.2" transform="rotate(8 -16.5 -1.3)" fill="#fff" stroke-width="0.8"/><path d="M-18.17,-3.07 L-18.16,-3.80 L-18.11,-4.53 L-18.03,-5.26 L-17.91,-5.98 L-17.75,-6.69 L-17.56,-7.40 L-17.33,-8.08 L-17.07,-8.75 L-16.78,-9.40 L-16.46,-10.02 L-16.11,-10.61 L-15.73,-11.17 L-15.33,-11.69 L-14.90,-12.18 L-14.45,-12.63 L-13.98,-13.04 L-13.50,-13.41 L-13.00,-13.73 L-12.49,-14.01 L-11.96,-14.24 L-11.44,-14.42 L-10.90,-14.54 L-10.37,-14.62 L-9.83,-14.65 L-9.30,-14.63 L-8.78,-14.55 L-8.26,-14.43 L-7.75,-14.26 L2.75,-9.96 L3.25,-9.73 L3.73,-9.46 L4.20,-9.15 L4.64,-8.79 L5.07,-8.38 L5.46,-7.94 L5.84,-7.46 L6.18,-6.94 L6.49,-6.38 L6.77,-5.80 L7.02,-5.19 L7.23,-4.55 L7.41,-3.89 L7.55,-3.21 L7.66,-2.52 L7.73,-1.81 L7.76,-1.09 L7.75,-0.37 L7.71,0.35 L7.63,1.07 L7.51,1.79 L7.35,2.49 L7.16,3.19 L6.93,3.87 L6.67,4.53 L6.38,5.17 L6.05,5.78 L5.70,6.37 L5.32,6.92 L4.91,7.44 L4.48,7.93 L4.03,8.37 L3.55,8.78 L3.06,9.14 L2.56,9.45 L2.04,9.73 L1.51,9.95 L0.98,10.13 L0.44,10.25 L-0.10,10.33 L-0.64,10.35 L-1.18,10.33 L-1.71,10.26 L-2.24,10.13 L-2.75,9.96 L-13.25,5.86 L-13.74,5.63 L-14.22,5.36 L-14.67,5.04 L-15.11,4.68 L-15.53,4.28 L-15.92,3.83 L-16.29,3.34 L-16.62,2.82 L-16.93,2.26 L-17.20,1.67 L-17.45,1.06 L-17.66,0.41 L-17.83,-0.25 L-17.97,-0.94 L-18.07,-1.64 L-18.14,-2.35 Z" fill="#2e2e2e"/><path d="M-15,-12 C-12,-6 -11.5,4 -15,9" fill="none" stroke="#555" stroke-width="0.5"/><ellipse cx="0" cy="0" rx="7.7" ry="10.4" transform="rotate(8)" fill="#fff" stroke="#111" stroke-width="2"/><path d="M-2,-8.5 C-6,-3 -5.5,4 -2.5,8.5" fill="none" stroke="#444" stroke-width="0.7"/></g><circle cx="1285.2" cy="250.4" r="10.4" fill="#fff" stroke="#8a8a8a" stroke-width="1.1"/><text x="1285.2" y="255.2" font-size="13" font-weight="bold" text-anchor="middle" fill="#111" stroke="#111" stroke-width="0.25">B</text><path d="M1126.2,331 L1154.3,260.7 L1147.6,331" fill="#fff" stroke="#222" stroke-width="1.4" stroke-linejoin="miter"/><rect x="1071.4" y="330.3" width="282.1" height="136.3" rx="7" fill="#fff" stroke="#222" stroke-width="1.5"/><rect x="1127" y="329" width="20" height="3" fill="#fff"/><line x1="1182.4" y1="330.3" x2="1182.4" y2="466.6" stroke="#222" stroke-width="1.4"/><circle cx="1091.6" cy="348.3" r="9.2" fill="#666"/><text x="1091.6" y="353.2" font-size="13" font-weight="bold" fill="#fff" text-anchor="middle">1</text><circle cx="1202.7" cy="348.3" r="9.2" fill="#666"/><text x="1202.7" y="353.2" font-size="13" font-weight="bold" fill="#fff" text-anchor="middle">2</text><g stroke="#111" stroke-width="1.3" fill="#fff"><path d="M1132.3,376.3 C1125,390 1114,398 1104.3,404.3 L1110.4,407.3 C1120,401 1133,392 1139.5,380.4 Z"/><path d="M1123.29,356.31 L1123.31,355.26 L1123.38,354.23 L1123.49,353.23 L1123.63,352.26 L1123.81,351.32 L1124.04,350.42 L1124.29,349.57 L1124.59,348.76 L1124.91,348.01 L1125.27,347.32 L1125.66,346.68 L1126.08,346.10 L1126.52,345.59 L1126.99,345.15 L1127.48,344.78 L1127.99,344.48 L1128.51,344.25 L1129.05,344.10 L1129.61,344.02 L1130.17,344.02 L1130.74,344.09 L1131.31,344.24 L1131.88,344.46 L1141.38,348.96 L1141.95,349.26 L1142.52,349.63 L1143.08,350.06 L1143.63,350.57 L1144.17,351.14 L1144.69,351.77 L1145.19,352.47 L1145.67,353.22 L1146.13,354.02 L1146.57,354.87 L1146.98,355.76 L1147.35,356.70 L1147.70,357.67 L1148.02,358.67 L1148.30,359.70 L1148.54,360.75 L1148.75,361.81 L1148.92,362.89 L1149.05,363.97 L1149.15,365.05 L1149.20,366.12 L1149.21,367.19 L1149.19,368.24 L1149.12,369.27 L1149.01,370.27 L1148.87,371.24 L1148.69,372.18 L1148.46,373.08 L1148.21,373.93 L1147.91,374.74 L1147.59,375.49 L1147.23,376.18 L1146.84,376.82 L1146.42,377.40 L1145.98,377.91 L1145.51,378.35 L1145.02,378.72 L1144.51,379.02 L1143.99,379.25 L1143.45,379.40 L1142.89,379.48 L1142.33,379.48 L1141.76,379.41 L1141.19,379.26 L1140.62,379.04 L1131.12,374.54 L1130.55,374.24 L1129.98,373.87 L1129.42,373.44 L1128.87,372.93 L1128.33,372.36 L1127.81,371.73 L1127.31,371.03 L1126.83,370.28 L1126.37,369.48 L1125.93,368.63 L1125.52,367.74 L1125.15,366.80 L1124.80,365.83 L1124.48,364.83 L1124.20,363.80 L1123.96,362.75 L1123.75,361.69 L1123.58,360.61 L1123.45,359.53 L1123.35,358.45 L1123.30,357.38 Z"/><ellipse cx="1136.5" cy="361.5" rx="6.5" ry="13.5" transform="rotate(-8 1136.5 361.5)" stroke-width="0.8"/><ellipse cx="1150" cy="366.8" rx="14.2" ry="18.4" transform="rotate(-12 1150 366.8)"/><ellipse cx="1150.4" cy="366.8" rx="9.6" ry="14.2" transform="rotate(-12 1150.4 366.8)" stroke-width="1"/></g><g stroke="#111" stroke-width="1.3"><path d="M1092.00,419.67 L1092.02,418.86 L1092.08,418.05 L1092.18,417.23 L1092.30,416.42 L1092.46,415.61 L1092.65,414.81 L1092.88,414.03 L1093.13,413.26 L1093.41,412.52 L1093.72,411.79 L1094.05,411.10 L1094.41,410.44 L1094.79,409.81 L1095.19,409.23 L1095.61,408.68 L1096.04,408.17 L1096.49,407.72 L1096.95,407.31 L1097.43,406.95 L1097.91,406.64 L1098.39,406.38 L1098.88,406.18 L1099.37,406.04 L1099.86,405.95 L1100.34,405.92 L1100.81,405.95 L1101.28,406.03 L1114.28,408.43 L1114.74,408.57 L1115.18,408.76 L1115.61,409.01 L1116.02,409.31 L1116.41,409.67 L1116.78,410.07 L1117.12,410.53 L1117.44,411.03 L1117.74,411.57 L1118.00,412.15 L1118.24,412.78 L1118.45,413.43 L1118.62,414.12 L1118.76,414.84 L1118.87,415.59 L1118.95,416.35 L1118.99,417.14 L1119.00,417.93 L1118.98,418.74 L1118.92,419.55 L1118.82,420.37 L1118.70,421.18 L1118.54,421.99 L1118.35,422.79 L1118.12,423.57 L1117.87,424.34 L1117.59,425.08 L1117.28,425.81 L1116.95,426.50 L1116.59,427.16 L1116.21,427.79 L1115.81,428.37 L1115.39,428.92 L1114.96,429.43 L1114.51,429.88 L1114.05,430.29 L1113.57,430.65 L1113.09,430.96 L1112.61,431.22 L1112.12,431.42 L1111.63,431.56 L1111.14,431.65 L1110.66,431.68 L1110.19,431.65 L1109.72,431.57 L1096.72,429.17 L1096.26,429.03 L1095.82,428.84 L1095.39,428.59 L1094.98,428.29 L1094.59,427.93 L1094.22,427.53 L1093.88,427.07 L1093.56,426.57 L1093.26,426.03 L1093.00,425.45 L1092.76,424.82 L1092.55,424.17 L1092.38,423.48 L1092.24,422.76 L1092.13,422.01 L1092.05,421.25 L1092.01,420.46 Z" fill="#fff"/><path d="M1098.5,405.9 L1112.5,408.4 L1112,413.5 L1095,410.5 C1095.5,408 1096.5,406.5 1098.5,405.9 Z" fill="#1e1e1e"/><ellipse cx="1111" cy="420.5" rx="5.5" ry="9.5" transform="rotate(10 1111 420.5)" fill="#fff" stroke-width="0.9"/></g><g transform="translate(1133.6,424) scale(1.32)" stroke="#1e1e1e" stroke-width="0.76"><path d="M-18.17,-3.07 L-18.16,-3.80 L-18.11,-4.53 L-18.03,-5.26 L-17.91,-5.98 L-17.75,-6.69 L-17.56,-7.40 L-17.33,-8.08 L-17.07,-8.75 L-16.78,-9.40 L-16.46,-10.02 L-16.11,-10.61 L-15.73,-11.17 L-15.33,-11.69 L-14.90,-12.18 L-14.45,-12.63 L-13.98,-13.04 L-13.50,-13.41 L-13.00,-13.73 L-12.49,-14.01 L-11.96,-14.24 L-11.44,-14.42 L-10.90,-14.54 L-10.37,-14.62 L-9.83,-14.65 L-9.30,-14.63 L-8.78,-14.55 L-8.26,-14.43 L-7.75,-14.26 L2.75,-9.96 L3.25,-9.73 L3.73,-9.46 L4.20,-9.15 L4.64,-8.79 L5.07,-8.38 L5.46,-7.94 L5.84,-7.46 L6.18,-6.94 L6.49,-6.38 L6.77,-5.80 L7.02,-5.19 L7.23,-4.55 L7.41,-3.89 L7.55,-3.21 L7.66,-2.52 L7.73,-1.81 L7.76,-1.09 L7.75,-0.37 L7.71,0.35 L7.63,1.07 L7.51,1.79 L7.35,2.49 L7.16,3.19 L6.93,3.87 L6.67,4.53 L6.38,5.17 L6.05,5.78 L5.70,6.37 L5.32,6.92 L4.91,7.44 L4.48,7.93 L4.03,8.37 L3.55,8.78 L3.06,9.14 L2.56,9.45 L2.04,9.73 L1.51,9.95 L0.98,10.13 L0.44,10.25 L-0.10,10.33 L-0.64,10.35 L-1.18,10.33 L-1.71,10.26 L-2.24,10.13 L-2.75,9.96 L-13.25,5.86 L-13.74,5.63 L-14.22,5.36 L-14.67,5.04 L-15.11,4.68 L-15.53,4.28 L-15.92,3.83 L-16.29,3.34 L-16.62,2.82 L-16.93,2.26 L-17.20,1.67 L-17.45,1.06 L-17.66,0.41 L-17.83,-0.25 L-17.97,-0.94 L-18.07,-1.64 L-18.14,-2.35 Z" fill="#2e2e2e"/><path d="M-15,-12 C-12,-6 -11.5,4 -15,9" fill="none" stroke="#555" stroke-width="0.5"/><ellipse cx="0" cy="0" rx="7.7" ry="10.4" transform="rotate(8)" fill="#fff" stroke="#111" stroke-width="2"/><path d="M-2,-8.5 C-6,-3 -5.5,4 -2.5,8.5" fill="none" stroke="#444" stroke-width="0.7"/></g><g stroke="#111" stroke-width="1.3" fill="#fff"><path d="M1207.10,376.17 L1207.10,375.39 L1207.15,374.60 L1207.25,373.81 L1207.39,373.02 L1207.58,372.24 L1207.82,371.46 L1208.10,370.70 L1208.42,369.96 L1208.79,369.24 L1209.20,368.55 L1209.64,367.88 L1210.12,367.24 L1210.64,366.64 L1211.18,366.08 L1211.75,365.55 L1212.35,365.07 L1212.97,364.63 L1213.62,364.24 L1214.27,363.90 L1214.94,363.61 L1215.63,363.37 L1216.31,363.19 L1217.00,363.06 L1217.69,362.98 L1218.38,362.96 L1219.06,362.99 L1219.73,363.08 L1220.39,363.23 L1221.03,363.43 L1232.73,367.84 L1233.39,368.11 L1234.02,368.43 L1234.63,368.80 L1235.21,369.22 L1235.76,369.69 L1236.28,370.20 L1236.75,370.76 L1237.19,371.36 L1237.58,371.99 L1237.94,372.66 L1238.24,373.36 L1238.50,374.08 L1238.71,374.83 L1238.87,375.61 L1238.98,376.39 L1239.04,377.19 L1239.05,378.00 L1239.01,378.82 L1238.92,379.63 L1238.78,380.44 L1238.59,381.25 L1238.35,382.04 L1238.06,382.82 L1237.72,383.58 L1237.34,384.32 L1236.92,385.03 L1236.46,385.71 L1235.96,386.36 L1235.43,386.98 L1234.86,387.55 L1234.26,388.09 L1233.63,388.58 L1232.98,389.02 L1232.31,389.41 L1231.62,389.76 L1230.91,390.05 L1230.19,390.28 L1229.47,390.47 L1228.74,390.59 L1228.01,390.66 L1227.28,390.67 L1226.56,390.63 L1225.85,390.53 L1225.16,390.37 L1224.47,390.16 L1223.81,389.89 L1212.35,384.92 L1211.75,384.62 L1211.17,384.27 L1210.63,383.87 L1210.12,383.42 L1209.64,382.93 L1209.19,382.39 L1208.79,381.82 L1208.42,381.21 L1208.10,380.56 L1207.81,379.89 L1207.58,379.18 L1207.39,378.46 L1207.24,377.71 L1207.15,376.95 Z"/><ellipse cx="1228.6" cy="379" rx="10.2" ry="11.9" transform="rotate(22 1228.6 379)"/><ellipse cx="1229" cy="379.5" rx="8" ry="9.8" transform="rotate(22 1229 379.5)" stroke="#666" stroke-width="0.8"/><path d="M1222.5,384 C1223,388 1226,390 1229,390.5 M1224.5,382 C1225,386 1228,388 1231,388.5 M1226.5,380 C1227,384 1230,386 1233,386.5" fill="none" stroke="#888" stroke-width="0.7"/></g><path d="M1240.9,383.1 L1253.2,380.5 L1251.3,384.9 L1261.3,390.5 L1258.2,396 L1248.2,390.4 L1246.2,394.8 Z" fill="#fff" stroke="#111" stroke-width="1.5" stroke-linejoin="miter"/><g stroke="#111" stroke-width="1.3" fill="#fff"><path d="M1264.93,403.35 L1264.96,402.55 L1265.03,401.75 L1265.14,400.95 L1265.29,400.15 L1265.48,399.35 L1265.71,398.57 L1265.98,397.80 L1266.29,397.05 L1266.63,396.32 L1267.00,395.62 L1267.41,394.94 L1267.84,394.30 L1268.31,393.69 L1268.79,393.12 L1269.30,392.59 L1269.84,392.10 L1270.39,391.66 L1270.95,391.27 L1271.53,390.93 L1272.11,390.64 L1272.71,390.40 L1273.30,390.22 L1273.90,390.09 L1274.50,390.01 L1275.09,390.00 L1275.67,390.04 L1276.25,390.13 L1276.81,390.28 L1286.31,393.78 L1286.85,393.99 L1287.37,394.24 L1287.88,394.55 L1288.36,394.92 L1288.81,395.33 L1289.24,395.78 L1289.63,396.29 L1289.99,396.83 L1290.32,397.42 L1290.61,398.04 L1290.87,398.69 L1291.09,399.38 L1291.27,400.10 L1291.40,400.83 L1291.50,401.59 L1291.56,402.37 L1291.57,403.15 L1291.54,403.95 L1291.47,404.75 L1291.36,405.55 L1291.21,406.35 L1291.02,407.15 L1290.79,407.93 L1290.52,408.70 L1290.21,409.45 L1289.87,410.18 L1289.50,410.88 L1289.09,411.56 L1288.66,412.20 L1288.19,412.81 L1287.71,413.38 L1287.20,413.91 L1286.66,414.40 L1286.11,414.84 L1285.55,415.23 L1284.97,415.57 L1284.39,415.86 L1283.79,416.10 L1283.20,416.28 L1282.60,416.41 L1282.00,416.49 L1281.41,416.50 L1280.83,416.46 L1280.25,416.37 L1279.69,416.22 L1270.19,412.72 L1269.65,412.51 L1269.13,412.26 L1268.62,411.95 L1268.14,411.58 L1267.69,411.17 L1267.26,410.72 L1266.87,410.21 L1266.51,409.67 L1266.18,409.08 L1265.89,408.46 L1265.63,407.81 L1265.41,407.12 L1265.23,406.40 L1265.10,405.67 L1265.00,404.91 L1264.94,404.13 Z"/><ellipse cx="1283" cy="405" rx="8.3" ry="11.7" transform="rotate(15 1283 405)"/><ellipse cx="1285" cy="406" rx="5.6" ry="9.2" transform="rotate(15 1285 406)" stroke-width="0.9"/></g><g transform="translate(1305.4,410.4) scale(1.12)" stroke="#1e1e1e" stroke-width="0.89"><path d="M-18.17,-3.07 L-18.16,-3.80 L-18.11,-4.53 L-18.03,-5.26 L-17.91,-5.98 L-17.75,-6.69 L-17.56,-7.40 L-17.33,-8.08 L-17.07,-8.75 L-16.78,-9.40 L-16.46,-10.02 L-16.11,-10.61 L-15.73,-11.17 L-15.33,-11.69 L-14.90,-12.18 L-14.45,-12.63 L-13.98,-13.04 L-13.50,-13.41 L-13.00,-13.73 L-12.49,-14.01 L-11.96,-14.24 L-11.44,-14.42 L-10.90,-14.54 L-10.37,-14.62 L-9.83,-14.65 L-9.30,-14.63 L-8.78,-14.55 L-8.26,-14.43 L-7.75,-14.26 L2.75,-9.96 L3.25,-9.73 L3.73,-9.46 L4.20,-9.15 L4.64,-8.79 L5.07,-8.38 L5.46,-7.94 L5.84,-7.46 L6.18,-6.94 L6.49,-6.38 L6.77,-5.80 L7.02,-5.19 L7.23,-4.55 L7.41,-3.89 L7.55,-3.21 L7.66,-2.52 L7.73,-1.81 L7.76,-1.09 L7.75,-0.37 L7.71,0.35 L7.63,1.07 L7.51,1.79 L7.35,2.49 L7.16,3.19 L6.93,3.87 L6.67,4.53 L6.38,5.17 L6.05,5.78 L5.70,6.37 L5.32,6.92 L4.91,7.44 L4.48,7.93 L4.03,8.37 L3.55,8.78 L3.06,9.14 L2.56,9.45 L2.04,9.73 L1.51,9.95 L0.98,10.13 L0.44,10.25 L-0.10,10.33 L-0.64,10.35 L-1.18,10.33 L-1.71,10.26 L-2.24,10.13 L-2.75,9.96 L-13.25,5.86 L-13.74,5.63 L-14.22,5.36 L-14.67,5.04 L-15.11,4.68 L-15.53,4.28 L-15.92,3.83 L-16.29,3.34 L-16.62,2.82 L-16.93,2.26 L-17.20,1.67 L-17.45,1.06 L-17.66,0.41 L-17.83,-0.25 L-17.97,-0.94 L-18.07,-1.64 L-18.14,-2.35 Z" fill="#2e2e2e"/><path d="M-15,-12 C-12,-6 -11.5,4 -15,9" fill="none" stroke="#555" stroke-width="0.5"/><ellipse cx="0" cy="0" rx="7.7" ry="10.4" transform="rotate(8)" fill="#fff" stroke="#111" stroke-width="2"/><path d="M-2,-8.5 C-6,-3 -5.5,4 -2.5,8.5" fill="none" stroke="#444" stroke-width="0.7"/></g><g transform="translate(1315.5,401.5) rotate(0) scale(0.56)" fill="#fff" stroke="#888" stroke-width="1.79" stroke-linejoin="round"><path d="M38.2,3.5 L28.6,15 L24.3,11.6 C15,18 9,28 9,36 C9,42 13,44 18,42 L25.7,38 L33.4,43.3 C28,49 20,52 13.3,51.4 C6,50 1,44 0.8,34.1 C1,23 9,12 17.6,5.9 L12.3,2.5 C20,-0.5 30,-0.8 38.2,3.5 Z"/><path d="M9,36 C8.5,41 10.5,47 13.3,51.4" fill="none"/></g></g><g clip-path="url(#c5)"><text x="64.3" y="536" font-size="15" fill="#2a2a2a" stroke="#2a2a2a" stroke-width="0.25" textLength="38.5" lengthAdjust="spacingAndGlyphs">Шаг 4</text><g transform="translate(0,0)" stroke="#707070" stroke-width="1.5"><line x1="9.8" y1="573" x2="10.5" y2="955.5"/><line x1="68.2" y1="575.6" x2="68.7" y2="936"/><line x1="117.6" y1="578" x2="118.5" y2="920"/><line x1="166.3" y1="581" x2="167" y2="904.5"/><line x1="212.4" y1="582.1" x2="212.6" y2="888.5"/><line x1="255.6" y1="582.7" x2="256.2" y2="876"/><line x1="301.6" y1="581.5" x2="302.5" y2="857.5"/><line x1="14.1" y1="603.9" x2="271.9" y2="567.1"/><line x1="7.4" y1="656" x2="340" y2="606.2"/><line x1="6.2" y1="713.9" x2="341" y2="651"/><line x1="6.2" y1="773" x2="342" y2="698.4"/><line x1="8" y1="834.5" x2="341.9" y2="748"/><line x1="10" y1="893.7" x2="341.9" y2="792.1"/><line x1="11" y1="955.5" x2="343.6" y2="844.7"/></g><g transform="translate(116.4,740.7) scale(1.0)" stroke="#1e1e1e" stroke-width="1.00"><path d="M-33.27,-3.31 L-33.26,-4.00 L-33.21,-4.69 L-33.13,-5.37 L-33.02,-6.06 L-32.87,-6.73 L-32.69,-7.39 L-32.48,-8.04 L-32.24,-8.67 L-31.97,-9.28 L-31.67,-9.86 L-31.35,-10.42 L-31.00,-10.95 L-30.62,-11.45 L-30.23,-11.91 L-29.81,-12.34 L-29.38,-12.73 L-28.93,-13.07 L-28.47,-13.38 L-28.00,-13.64 L-27.52,-13.85 L-27.03,-14.02 L-26.54,-14.15 L-26.05,-14.22 L-25.55,-14.25 L-25.06,-14.23 L-24.58,-14.16 L-24.11,-14.05 L-18.91,-12.25 L-18.44,-12.09 L-17.99,-11.88 L-17.55,-11.62 L-17.13,-11.32 L-16.72,-10.98 L-16.34,-10.60 L-15.98,-10.18 L-15.65,-9.73 L-15.34,-9.23 L-15.06,-8.71 L-14.80,-8.16 L-14.58,-7.57 L-14.39,-6.97 L-14.23,-6.34 L-14.11,-5.70 L-14.01,-5.04 L-13.96,-4.37 L-13.93,-3.69 L-13.94,-3.00 L-13.99,-2.31 L-14.07,-1.63 L-14.18,-0.94 L-14.33,-0.27 L-14.51,0.39 L-14.72,1.04 L-14.96,1.67 L-15.23,2.28 L-15.53,2.86 L-15.85,3.42 L-16.20,3.95 L-16.58,4.45 L-16.97,4.91 L-17.39,5.34 L-17.82,5.73 L-18.27,6.07 L-18.73,6.38 L-19.20,6.64 L-19.68,6.85 L-20.17,7.02 L-20.66,7.15 L-21.15,7.22 L-21.65,7.25 L-22.14,7.23 L-22.62,7.16 L-23.09,7.05 L-28.29,5.25 L-28.76,5.09 L-29.21,4.88 L-29.65,4.62 L-30.07,4.32 L-30.48,3.98 L-30.86,3.60 L-31.22,3.18 L-31.55,2.73 L-31.86,2.23 L-32.14,1.71 L-32.40,1.16 L-32.62,0.57 L-32.81,-0.03 L-32.97,-0.66 L-33.09,-1.30 L-33.19,-1.96 L-33.24,-2.63 Z" fill="#fff"/><ellipse cx="-21" cy="-2.6" rx="7" ry="9.9" transform="rotate(8 -21 -2.6)" fill="#fff"/><ellipse cx="-16.5" cy="-1.3" rx="5.6" ry="8.2" transform="rotate(8 -16.5 -1.3)" fill="#fff" stroke-width="0.8"/><path d="M-18.17,-3.07 L-18.16,-3.80 L-18.11,-4.53 L-18.03,-5.26 L-17.91,-5.98 L-17.75,-6.69 L-17.56,-7.40 L-17.33,-8.08 L-17.07,-8.75 L-16.78,-9.40 L-16.46,-10.02 L-16.11,-10.61 L-15.73,-11.17 L-15.33,-11.69 L-14.90,-12.18 L-14.45,-12.63 L-13.98,-13.04 L-13.50,-13.41 L-13.00,-13.73 L-12.49,-14.01 L-11.96,-14.24 L-11.44,-14.42 L-10.90,-14.54 L-10.37,-14.62 L-9.83,-14.65 L-9.30,-14.63 L-8.78,-14.55 L-8.26,-14.43 L-7.75,-14.26 L2.75,-9.96 L3.25,-9.73 L3.73,-9.46 L4.20,-9.15 L4.64,-8.79 L5.07,-8.38 L5.46,-7.94 L5.84,-7.46 L6.18,-6.94 L6.49,-6.38 L6.77,-5.80 L7.02,-5.19 L7.23,-4.55 L7.41,-3.89 L7.55,-3.21 L7.66,-2.52 L7.73,-1.81 L7.76,-1.09 L7.75,-0.37 L7.71,0.35 L7.63,1.07 L7.51,1.79 L7.35,2.49 L7.16,3.19 L6.93,3.87 L6.67,4.53 L6.38,5.17 L6.05,5.78 L5.70,6.37 L5.32,6.92 L4.91,7.44 L4.48,7.93 L4.03,8.37 L3.55,8.78 L3.06,9.14 L2.56,9.45 L2.04,9.73 L1.51,9.95 L0.98,10.13 L0.44,10.25 L-0.10,10.33 L-0.64,10.35 L-1.18,10.33 L-1.71,10.26 L-2.24,10.13 L-2.75,9.96 L-13.25,5.86 L-13.74,5.63 L-14.22,5.36 L-14.67,5.04 L-15.11,4.68 L-15.53,4.28 L-15.92,3.83 L-16.29,3.34 L-16.62,2.82 L-16.93,2.26 L-17.20,1.67 L-17.45,1.06 L-17.66,0.41 L-17.83,-0.25 L-17.97,-0.94 L-18.07,-1.64 L-18.14,-2.35 Z" fill="#2e2e2e"/><path d="M-15,-12 C-12,-6 -11.5,4 -15,9" fill="none" stroke="#555" stroke-width="0.5"/><ellipse cx="0" cy="0" rx="7.7" ry="10.4" transform="rotate(8)" fill="#fff" stroke="#111" stroke-width="2"/><path d="M-2,-8.5 C-6,-3 -5.5,4 -2.5,8.5" fill="none" stroke="#444" stroke-width="0.7"/></g><g transform="translate(225.8,705.2) scale(1.0)" stroke="#1e1e1e" stroke-width="1.00"><path d="M-33.27,-3.31 L-33.26,-4.00 L-33.21,-4.69 L-33.13,-5.37 L-33.02,-6.06 L-32.87,-6.73 L-32.69,-7.39 L-32.48,-8.04 L-32.24,-8.67 L-31.97,-9.28 L-31.67,-9.86 L-31.35,-10.42 L-31.00,-10.95 L-30.62,-11.45 L-30.23,-11.91 L-29.81,-12.34 L-29.38,-12.73 L-28.93,-13.07 L-28.47,-13.38 L-28.00,-13.64 L-27.52,-13.85 L-27.03,-14.02 L-26.54,-14.15 L-26.05,-14.22 L-25.55,-14.25 L-25.06,-14.23 L-24.58,-14.16 L-24.11,-14.05 L-18.91,-12.25 L-18.44,-12.09 L-17.99,-11.88 L-17.55,-11.62 L-17.13,-11.32 L-16.72,-10.98 L-16.34,-10.60 L-15.98,-10.18 L-15.65,-9.73 L-15.34,-9.23 L-15.06,-8.71 L-14.80,-8.16 L-14.58,-7.57 L-14.39,-6.97 L-14.23,-6.34 L-14.11,-5.70 L-14.01,-5.04 L-13.96,-4.37 L-13.93,-3.69 L-13.94,-3.00 L-13.99,-2.31 L-14.07,-1.63 L-14.18,-0.94 L-14.33,-0.27 L-14.51,0.39 L-14.72,1.04 L-14.96,1.67 L-15.23,2.28 L-15.53,2.86 L-15.85,3.42 L-16.20,3.95 L-16.58,4.45 L-16.97,4.91 L-17.39,5.34 L-17.82,5.73 L-18.27,6.07 L-18.73,6.38 L-19.20,6.64 L-19.68,6.85 L-20.17,7.02 L-20.66,7.15 L-21.15,7.22 L-21.65,7.25 L-22.14,7.23 L-22.62,7.16 L-23.09,7.05 L-28.29,5.25 L-28.76,5.09 L-29.21,4.88 L-29.65,4.62 L-30.07,4.32 L-30.48,3.98 L-30.86,3.60 L-31.22,3.18 L-31.55,2.73 L-31.86,2.23 L-32.14,1.71 L-32.40,1.16 L-32.62,0.57 L-32.81,-0.03 L-32.97,-0.66 L-33.09,-1.30 L-33.19,-1.96 L-33.24,-2.63 Z" fill="#fff"/><ellipse cx="-21" cy="-2.6" rx="7" ry="9.9" transform="rotate(8 -21 -2.6)" fill="#fff"/><ellipse cx="-16.5" cy="-1.3" rx="5.6" ry="8.2" transform="rotate(8 -16.5 -1.3)" fill="#fff" stroke-width="0.8"/><path d="M-18.17,-3.07 L-18.16,-3.80 L-18.11,-4.53 L-18.03,-5.26 L-17.91,-5.98 L-17.75,-6.69 L-17.56,-7.40 L-17.33,-8.08 L-17.07,-8.75 L-16.78,-9.40 L-16.46,-10.02 L-16.11,-10.61 L-15.73,-11.17 L-15.33,-11.69 L-14.90,-12.18 L-14.45,-12.63 L-13.98,-13.04 L-13.50,-13.41 L-13.00,-13.73 L-12.49,-14.01 L-11.96,-14.24 L-11.44,-14.42 L-10.90,-14.54 L-10.37,-14.62 L-9.83,-14.65 L-9.30,-14.63 L-8.78,-14.55 L-8.26,-14.43 L-7.75,-14.26 L2.75,-9.96 L3.25,-9.73 L3.73,-9.46 L4.20,-9.15 L4.64,-8.79 L5.07,-8.38 L5.46,-7.94 L5.84,-7.46 L6.18,-6.94 L6.49,-6.38 L6.77,-5.80 L7.02,-5.19 L7.23,-4.55 L7.41,-3.89 L7.55,-3.21 L7.66,-2.52 L7.73,-1.81 L7.76,-1.09 L7.75,-0.37 L7.71,0.35 L7.63,1.07 L7.51,1.79 L7.35,2.49 L7.16,3.19 L6.93,3.87 L6.67,4.53 L6.38,5.17 L6.05,5.78 L5.70,6.37 L5.32,6.92 L4.91,7.44 L4.48,7.93 L4.03,8.37 L3.55,8.78 L3.06,9.14 L2.56,9.45 L2.04,9.73 L1.51,9.95 L0.98,10.13 L0.44,10.25 L-0.10,10.33 L-0.64,10.35 L-1.18,10.33 L-1.71,10.26 L-2.24,10.13 L-2.75,9.96 L-13.25,5.86 L-13.74,5.63 L-14.22,5.36 L-14.67,5.04 L-15.11,4.68 L-15.53,4.28 L-15.92,3.83 L-16.29,3.34 L-16.62,2.82 L-16.93,2.26 L-17.20,1.67 L-17.45,1.06 L-17.66,0.41 L-17.83,-0.25 L-17.97,-0.94 L-18.07,-1.64 L-18.14,-2.35 Z" fill="#2e2e2e"/><path d="M-15,-12 C-12,-6 -11.5,4 -15,9" fill="none" stroke="#555" stroke-width="0.5"/><ellipse cx="0" cy="0" rx="7.7" ry="10.4" transform="rotate(8)" fill="#fff" stroke="#111" stroke-width="2"/><path d="M-2,-8.5 C-6,-3 -5.5,4 -2.5,8.5" fill="none" stroke="#444" stroke-width="0.7"/></g><g transform="translate(155.5,767.5) scale(1.0)" stroke="#222" stroke-width="1.00" fill="#fff"><path d="M-31.71,3.73 L-31.70,2.33 L-31.60,0.87 L-31.42,-0.62 L-31.15,-2.15 L-30.79,-3.70 L-30.36,-5.27 L-29.84,-6.84 L-29.25,-8.42 L-28.58,-10.00 L-27.85,-11.56 L-27.04,-13.10 L-26.17,-14.61 L-25.24,-16.09 L-24.26,-17.52 L-23.23,-18.91 L-22.15,-20.24 L-21.03,-21.50 L-19.88,-22.70 L-18.70,-23.82 L-17.50,-24.86 L-16.28,-25.81 L-15.05,-26.68 L-13.81,-27.45 L-12.58,-28.12 L-11.35,-28.69 L-10.13,-29.16 L-8.93,-29.51 L-7.76,-29.77 L-6.62,-29.91 L-5.52,-29.94 L-4.45,-29.86 L-3.43,-29.67 L-2.47,-29.38 L-1.56,-28.97 L12.44,-21.67 L13.29,-21.16 L14.08,-20.55 L14.79,-19.83 L15.44,-19.02 L16.01,-18.12 L16.50,-17.13 L16.91,-16.05 L17.24,-14.90 L17.48,-13.68 L17.64,-12.38 L17.71,-11.03 L17.70,-9.63 L17.60,-8.17 L17.42,-6.68 L17.15,-5.15 L16.79,-3.60 L16.36,-2.03 L15.84,-0.46 L15.25,1.12 L14.58,2.70 L13.85,4.26 L13.04,5.80 L12.17,7.31 L11.24,8.79 L10.26,10.22 L9.23,11.61 L8.15,12.94 L7.03,14.20 L5.88,15.40 L4.70,16.52 L3.50,17.56 L2.28,18.51 L1.05,19.38 L-0.19,20.15 L-1.42,20.82 L-2.65,21.39 L-3.87,21.86 L-5.07,22.21 L-6.24,22.47 L-7.38,22.61 L-8.48,22.64 L-9.55,22.56 L-10.57,22.37 L-11.53,22.08 L-12.44,21.67 L-26.44,14.37 L-27.29,13.86 L-28.08,13.25 L-28.79,12.53 L-29.44,11.72 L-30.01,10.82 L-30.50,9.83 L-30.91,8.75 L-31.24,7.60 L-31.48,6.38 L-31.64,5.08 Z"/><ellipse cx="0" cy="0" rx="14.2" ry="25.0" transform="rotate(31)"/><ellipse cx="0" cy="0.6" rx="8.2" ry="14.2" transform="rotate(31 0 0.6)" stroke="#444" stroke-width="1.1"/><ellipse cx="0" cy="0.6" rx="7.0" ry="12.9" transform="rotate(31 0 0.6)" stroke="#777" stroke-width="1.3" fill="none"/><ellipse cx="0" cy="0.6" rx="6.1" ry="12.0" transform="rotate(31 0 0.6)" stroke="#444" stroke-width="0.7" fill="none"/><path d="M3.3,-9.2 C1,-3 -3,3 -5.9,7.2" fill="none" stroke-width="0.8"/></g><g transform="translate(270.9,727.8) scale(1.0)" stroke="#222" stroke-width="1.00" fill="#fff"><path d="M-31.71,3.73 L-31.70,2.33 L-31.60,0.87 L-31.42,-0.62 L-31.15,-2.15 L-30.79,-3.70 L-30.36,-5.27 L-29.84,-6.84 L-29.25,-8.42 L-28.58,-10.00 L-27.85,-11.56 L-27.04,-13.10 L-26.17,-14.61 L-25.24,-16.09 L-24.26,-17.52 L-23.23,-18.91 L-22.15,-20.24 L-21.03,-21.50 L-19.88,-22.70 L-18.70,-23.82 L-17.50,-24.86 L-16.28,-25.81 L-15.05,-26.68 L-13.81,-27.45 L-12.58,-28.12 L-11.35,-28.69 L-10.13,-29.16 L-8.93,-29.51 L-7.76,-29.77 L-6.62,-29.91 L-5.52,-29.94 L-4.45,-29.86 L-3.43,-29.67 L-2.47,-29.38 L-1.56,-28.97 L12.44,-21.67 L13.29,-21.16 L14.08,-20.55 L14.79,-19.83 L15.44,-19.02 L16.01,-18.12 L16.50,-17.13 L16.91,-16.05 L17.24,-14.90 L17.48,-13.68 L17.64,-12.38 L17.71,-11.03 L17.70,-9.63 L17.60,-8.17 L17.42,-6.68 L17.15,-5.15 L16.79,-3.60 L16.36,-2.03 L15.84,-0.46 L15.25,1.12 L14.58,2.70 L13.85,4.26 L13.04,5.80 L12.17,7.31 L11.24,8.79 L10.26,10.22 L9.23,11.61 L8.15,12.94 L7.03,14.20 L5.88,15.40 L4.70,16.52 L3.50,17.56 L2.28,18.51 L1.05,19.38 L-0.19,20.15 L-1.42,20.82 L-2.65,21.39 L-3.87,21.86 L-5.07,22.21 L-6.24,22.47 L-7.38,22.61 L-8.48,22.64 L-9.55,22.56 L-10.57,22.37 L-11.53,22.08 L-12.44,21.67 L-26.44,14.37 L-27.29,13.86 L-28.08,13.25 L-28.79,12.53 L-29.44,11.72 L-30.01,10.82 L-30.50,9.83 L-30.91,8.75 L-31.24,7.60 L-31.48,6.38 L-31.64,5.08 Z"/><ellipse cx="0" cy="0" rx="14.2" ry="25.0" transform="rotate(31)"/><ellipse cx="0" cy="0.6" rx="8.2" ry="14.2" transform="rotate(31 0 0.6)" stroke="#444" stroke-width="1.1"/><ellipse cx="0" cy="0.6" rx="7.0" ry="12.9" transform="rotate(31 0 0.6)" stroke="#777" stroke-width="1.3" fill="none"/><ellipse cx="0" cy="0.6" rx="6.1" ry="12.0" transform="rotate(31 0 0.6)" stroke="#444" stroke-width="0.7" fill="none"/><path d="M3.3,-9.2 C1,-3 -3,3 -5.9,7.2" fill="none" stroke-width="0.8"/></g><g transform="translate(177,734) rotate(0) scale(1.0)" fill="#fff" stroke="#222" stroke-width="1.50" stroke-linejoin="round"><path d="M38.2,3.5 L28.6,15 L24.3,11.6 C15,18 9,28 9,36 C9,42 13,44 18,42 L25.7,38 L33.4,43.3 C28,49 20,52 13.3,51.4 C6,50 1,44 0.8,34.1 C1,23 9,12 17.6,5.9 L12.3,2.5 C20,-0.5 30,-0.8 38.2,3.5 Z"/><path d="M9,36 C8.5,41 10.5,47 13.3,51.4" fill="none"/></g><g transform="translate(291.3,696) rotate(0) scale(1.0)" fill="#fff" stroke="#222" stroke-width="1.50" stroke-linejoin="round"><path d="M38.2,3.5 L28.6,15 L24.3,11.6 C15,18 9,28 9,36 C9,42 13,44 18,42 L25.7,38 L33.4,43.3 C28,49 20,52 13.3,51.4 C6,50 1,44 0.8,34.1 C1,23 9,12 17.6,5.9 L12.3,2.5 C20,-0.5 30,-0.8 38.2,3.5 Z"/><path d="M9,36 C8.5,41 10.5,47 13.3,51.4" fill="none"/></g><g transform="translate(160.5,792.1) rotate(0) scale(1.0)" fill="#fff" stroke="#222" stroke-width="1.50" stroke-linejoin="miter"><path d="M0,0 L22.1,-1.4 L20.2,3.9 L37.9,13 L33.6,23 L14.9,13.9 L12.5,19.7 Z"/></g><g transform="translate(275.6,760.6) rotate(0) scale(1.0)" fill="#fff" stroke="#222" stroke-width="1.50" stroke-linejoin="miter"><path d="M0,0 L22.1,-1.4 L20.2,3.9 L37.9,13 L33.6,23 L14.9,13.9 L12.5,19.7 Z"/></g><circle cx="237.5" cy="755.2" r="10.2" fill="#fff" stroke="#8a8a8a" stroke-width="1.1"/><text x="237.5" y="760.0" font-size="13" font-weight="bold" text-anchor="middle" fill="#111" stroke="#111" stroke-width="0.25">D</text></g><g clip-path="url(#c6)"><text x="415.2" y="536" font-size="15" fill="#2a2a2a" stroke="#2a2a2a" stroke-width="0.25" textLength="38.5" lengthAdjust="spacingAndGlyphs">Шаг 5</text><g transform="translate(351.3,0)" stroke="#707070" stroke-width="1.5"><line x1="9.8" y1="573" x2="10.5" y2="955.5"/><line x1="68.2" y1="575.6" x2="68.7" y2="936"/><line x1="117.6" y1="578" x2="118.5" y2="920"/><line x1="166.3" y1="581" x2="167" y2="904.5"/><line x1="212.4" y1="582.1" x2="212.6" y2="888.5"/><line x1="255.6" y1="582.7" x2="256.2" y2="876"/><line x1="301.6" y1="581.5" x2="302.5" y2="857.5"/><line x1="14.1" y1="603.9" x2="271.9" y2="567.1"/><line x1="7.4" y1="656" x2="340" y2="606.2"/><line x1="6.2" y1="713.9" x2="341" y2="651"/><line x1="6.2" y1="773" x2="342" y2="698.4"/><line x1="8" y1="834.5" x2="341.9" y2="748"/><line x1="10" y1="893.7" x2="341.9" y2="792.1"/><line x1="11" y1="955.5" x2="343.6" y2="844.7"/></g><g transform="translate(462.6,740.6) scale(1.0)" stroke="#222" stroke-width="1.00" fill="#fff"><path d="M-31.71,3.73 L-31.70,2.33 L-31.60,0.87 L-31.42,-0.62 L-31.15,-2.15 L-30.79,-3.70 L-30.36,-5.27 L-29.84,-6.84 L-29.25,-8.42 L-28.58,-10.00 L-27.85,-11.56 L-27.04,-13.10 L-26.17,-14.61 L-25.24,-16.09 L-24.26,-17.52 L-23.23,-18.91 L-22.15,-20.24 L-21.03,-21.50 L-19.88,-22.70 L-18.70,-23.82 L-17.50,-24.86 L-16.28,-25.81 L-15.05,-26.68 L-13.81,-27.45 L-12.58,-28.12 L-11.35,-28.69 L-10.13,-29.16 L-8.93,-29.51 L-7.76,-29.77 L-6.62,-29.91 L-5.52,-29.94 L-4.45,-29.86 L-3.43,-29.67 L-2.47,-29.38 L-1.56,-28.97 L12.44,-21.67 L13.29,-21.16 L14.08,-20.55 L14.79,-19.83 L15.44,-19.02 L16.01,-18.12 L16.50,-17.13 L16.91,-16.05 L17.24,-14.90 L17.48,-13.68 L17.64,-12.38 L17.71,-11.03 L17.70,-9.63 L17.60,-8.17 L17.42,-6.68 L17.15,-5.15 L16.79,-3.60 L16.36,-2.03 L15.84,-0.46 L15.25,1.12 L14.58,2.70 L13.85,4.26 L13.04,5.80 L12.17,7.31 L11.24,8.79 L10.26,10.22 L9.23,11.61 L8.15,12.94 L7.03,14.20 L5.88,15.40 L4.70,16.52 L3.50,17.56 L2.28,18.51 L1.05,19.38 L-0.19,20.15 L-1.42,20.82 L-2.65,21.39 L-3.87,21.86 L-5.07,22.21 L-6.24,22.47 L-7.38,22.61 L-8.48,22.64 L-9.55,22.56 L-10.57,22.37 L-11.53,22.08 L-12.44,21.67 L-26.44,14.37 L-27.29,13.86 L-28.08,13.25 L-28.79,12.53 L-29.44,11.72 L-30.01,10.82 L-30.50,9.83 L-30.91,8.75 L-31.24,7.60 L-31.48,6.38 L-31.64,5.08 Z"/><ellipse cx="0" cy="0" rx="14.2" ry="25.0" transform="rotate(31)"/><ellipse cx="0" cy="0.6" rx="8.2" ry="14.2" transform="rotate(31 0 0.6)" stroke="#444" stroke-width="1.0"/><path d="M-7.79,1.56 L-7.76,0.81 L-7.70,0.06 L-7.60,-0.69 L-7.46,-1.44 L-7.29,-2.19 L-7.09,-2.93 L-6.86,-3.66 L-6.59,-4.38 L-6.30,-5.07 L-5.97,-5.74 L-5.62,-6.39 L-5.25,-7.01 L-4.85,-7.59 L-4.43,-8.14 L-3.99,-8.66 L-3.54,-9.13 L-3.07,-9.56 L-2.58,-9.95 L-2.09,-10.30 L-1.59,-10.59 L-1.09,-10.84 L-0.58,-11.03 L-0.07,-11.17 L0.44,-11.27 L0.94,-11.31 L1.44,-11.29 L1.92,-11.23 L2.40,-11.11 L2.86,-10.94 L3.30,-10.72 L14.90,-3.63 L15.33,-3.37 L15.74,-3.06 L16.12,-2.70 L16.48,-2.30 L16.82,-1.86 L17.12,-1.38 L17.40,-0.86 L17.65,-0.31 L17.87,0.27 L18.05,0.89 L18.20,1.52 L18.32,2.19 L18.40,2.87 L18.45,3.56 L18.46,4.27 L18.44,4.99 L18.38,5.72 L18.28,6.45 L18.15,7.17 L17.99,7.89 L17.80,8.61 L17.57,9.31 L17.31,9.99 L17.02,10.66 L16.71,11.31 L16.36,11.93 L15.99,12.52 L15.60,13.09 L15.19,13.62 L14.75,14.11 L14.30,14.56 L13.84,14.98 L13.36,15.35 L12.87,15.67 L12.38,15.95 L11.87,16.19 L11.37,16.37 L10.86,16.51 L10.35,16.59 L9.85,16.62 L9.36,16.61 L8.87,16.54 L8.40,16.42 L7.94,16.25 L7.50,16.03 L-4.30,9.72 L-4.73,9.45 L-5.13,9.13 L-5.51,8.76 L-5.87,8.35 L-6.20,7.90 L-6.50,7.40 L-6.78,6.87 L-7.02,6.30 L-7.23,5.70 L-7.41,5.06 L-7.56,4.40 L-7.67,3.72 L-7.75,3.02 L-7.79,2.29 Z" fill="#3a3a3a" stroke="#222"/><path d="M1,-9 C-2,-3 -1.5,5 2,10 M4,-9 C1,-3 1.5,5 5,11 M7,-6 C4,-1 4.5,7 8,13" fill="none" stroke="#666" stroke-width="0.6"/><ellipse cx="11.2" cy="6.2" rx="7.0" ry="10.6" transform="rotate(14 11.2 6.2)" fill="#fff" stroke="#222" stroke-width="1.3"/></g><g transform="translate(578.8,710.7) scale(1.0)" stroke="#222" stroke-width="1.00" fill="#fff"><path d="M-31.71,3.73 L-31.70,2.33 L-31.60,0.87 L-31.42,-0.62 L-31.15,-2.15 L-30.79,-3.70 L-30.36,-5.27 L-29.84,-6.84 L-29.25,-8.42 L-28.58,-10.00 L-27.85,-11.56 L-27.04,-13.10 L-26.17,-14.61 L-25.24,-16.09 L-24.26,-17.52 L-23.23,-18.91 L-22.15,-20.24 L-21.03,-21.50 L-19.88,-22.70 L-18.70,-23.82 L-17.50,-24.86 L-16.28,-25.81 L-15.05,-26.68 L-13.81,-27.45 L-12.58,-28.12 L-11.35,-28.69 L-10.13,-29.16 L-8.93,-29.51 L-7.76,-29.77 L-6.62,-29.91 L-5.52,-29.94 L-4.45,-29.86 L-3.43,-29.67 L-2.47,-29.38 L-1.56,-28.97 L12.44,-21.67 L13.29,-21.16 L14.08,-20.55 L14.79,-19.83 L15.44,-19.02 L16.01,-18.12 L16.50,-17.13 L16.91,-16.05 L17.24,-14.90 L17.48,-13.68 L17.64,-12.38 L17.71,-11.03 L17.70,-9.63 L17.60,-8.17 L17.42,-6.68 L17.15,-5.15 L16.79,-3.60 L16.36,-2.03 L15.84,-0.46 L15.25,1.12 L14.58,2.70 L13.85,4.26 L13.04,5.80 L12.17,7.31 L11.24,8.79 L10.26,10.22 L9.23,11.61 L8.15,12.94 L7.03,14.20 L5.88,15.40 L4.70,16.52 L3.50,17.56 L2.28,18.51 L1.05,19.38 L-0.19,20.15 L-1.42,20.82 L-2.65,21.39 L-3.87,21.86 L-5.07,22.21 L-6.24,22.47 L-7.38,22.61 L-8.48,22.64 L-9.55,22.56 L-10.57,22.37 L-11.53,22.08 L-12.44,21.67 L-26.44,14.37 L-27.29,13.86 L-28.08,13.25 L-28.79,12.53 L-29.44,11.72 L-30.01,10.82 L-30.50,9.83 L-30.91,8.75 L-31.24,7.60 L-31.48,6.38 L-31.64,5.08 Z"/><ellipse cx="0" cy="0" rx="14.2" ry="25.0" transform="rotate(31)"/><ellipse cx="0" cy="0.6" rx="8.2" ry="14.2" transform="rotate(31 0 0.6)" stroke="#444" stroke-width="1.0"/><path d="M-7.79,1.56 L-7.76,0.81 L-7.70,0.06 L-7.60,-0.69 L-7.46,-1.44 L-7.29,-2.19 L-7.09,-2.93 L-6.86,-3.66 L-6.59,-4.38 L-6.30,-5.07 L-5.97,-5.74 L-5.62,-6.39 L-5.25,-7.01 L-4.85,-7.59 L-4.43,-8.14 L-3.99,-8.66 L-3.54,-9.13 L-3.07,-9.56 L-2.58,-9.95 L-2.09,-10.30 L-1.59,-10.59 L-1.09,-10.84 L-0.58,-11.03 L-0.07,-11.17 L0.44,-11.27 L0.94,-11.31 L1.44,-11.29 L1.92,-11.23 L2.40,-11.11 L2.86,-10.94 L3.30,-10.72 L14.90,-3.63 L15.33,-3.37 L15.74,-3.06 L16.12,-2.70 L16.48,-2.30 L16.82,-1.86 L17.12,-1.38 L17.40,-0.86 L17.65,-0.31 L17.87,0.27 L18.05,0.89 L18.20,1.52 L18.32,2.19 L18.40,2.87 L18.45,3.56 L18.46,4.27 L18.44,4.99 L18.38,5.72 L18.28,6.45 L18.15,7.17 L17.99,7.89 L17.80,8.61 L17.57,9.31 L17.31,9.99 L17.02,10.66 L16.71,11.31 L16.36,11.93 L15.99,12.52 L15.60,13.09 L15.19,13.62 L14.75,14.11 L14.30,14.56 L13.84,14.98 L13.36,15.35 L12.87,15.67 L12.38,15.95 L11.87,16.19 L11.37,16.37 L10.86,16.51 L10.35,16.59 L9.85,16.62 L9.36,16.61 L8.87,16.54 L8.40,16.42 L7.94,16.25 L7.50,16.03 L-4.30,9.72 L-4.73,9.45 L-5.13,9.13 L-5.51,8.76 L-5.87,8.35 L-6.20,7.90 L-6.50,7.40 L-6.78,6.87 L-7.02,6.30 L-7.23,5.70 L-7.41,5.06 L-7.56,4.40 L-7.67,3.72 L-7.75,3.02 L-7.79,2.29 Z" fill="#3a3a3a" stroke="#222"/><path d="M1,-9 C-2,-3 -1.5,5 2,10 M4,-9 C1,-3 1.5,5 5,11 M7,-6 C4,-1 4.5,7 8,13" fill="none" stroke="#666" stroke-width="0.6"/><ellipse cx="11.2" cy="6.2" rx="7.0" ry="10.6" transform="rotate(14 11.2 6.2)" fill="#fff" stroke="#222" stroke-width="1.3"/></g><g transform="translate(495.4,761) rotate(28) scale(0.85)" fill="none" stroke="#555"><ellipse rx="6.3" ry="10.6" stroke-width="1.1"/><ellipse rx="5.4" ry="9.6" stroke-width="0.6"/><ellipse cx="0.4" rx="3.4" ry="6.4" stroke-width="1.1"/><ellipse cx="0.4" rx="2.6" ry="5.5" stroke-width="0.6"/></g><circle cx="483.8" cy="785.1" r="10.6" fill="#fff" stroke="#8a8a8a" stroke-width="1.1"/><text x="483.8" y="790.3" font-size="14" font-weight="bold" text-anchor="middle" fill="#111" stroke="#111" stroke-width="0.25">C</text><path d="M478.5,807 L491.8,810.9 L493.2,807 L504.5,818.8 L488.2,822.7 L489.4,818.5 L475.9,814.5 Z" fill="#fff" stroke="#111" stroke-width="1.3" stroke-linejoin="miter"/><circle cx="548.4" cy="819.2" r="10.6" fill="#fff" stroke="#8a8a8a" stroke-width="1.1"/><text x="548.4" y="824.4" font-size="14" font-weight="bold" text-anchor="middle" fill="#111" stroke="#111" stroke-width="0.25">A</text><g transform="translate(525.3,785.1) scale(1.17)" stroke="#222" stroke-width="0.98" fill="#fff" stroke-linejoin="round"><ellipse cx="-4.2" cy="-3.6" rx="8.2" ry="12.6" transform="rotate(-12 -4.2 -3.6)"/><path d="M1,-17.6 L106.5,-46.9 L110.7,-47.9 C116,-46 119.5,-42.5 120.5,-38.8 C121,-35 120,-27 118.3,-23.2 L7.6,11.1 Z"/><path d="M7.6,-4.9 L115,-37.1" fill="none"/><path d="M9,12.4 L117,-20.5" fill="none" stroke-width="0.6"/><path d="M65.3,-36.2 C65.5,-43 79,-44.5 80.9,-40.3" /><path d="M68,-38 C70,-41 76,-42 79,-40" fill="none" stroke-width="0.6"/><path d="M42.5,-0.8 L54.5,-3.8 L54.8,1.8 C53.5,5 45,6.8 42.7,3.5 Z" fill="#2e2e2e"/><path d="M107.7,-48.4 L120.5,-52 C126,-53 130,-49.5 131.9,-45.6 C133.2,-43.5 133.6,-42 133.6,-40.9 L133.6,-29.1 C133.6,-27 133,-25.8 131.9,-24.9 L118.3,-22.7 C120,-27 121,-35 120.5,-38.8 C119.5,-42.5 116,-46 110.7,-47.9 Z"/><path d="M106.5,-46.9 C110,-45.5 113.5,-42 115.4,-37.6 C116.5,-34 116.8,-27 116.6,-22.7" fill="none" stroke-width="1.6"/><path d="M121.3,-38.4 L131.5,-41.6" fill="none"/><path d="M119.2,-22.9 L127.7,-24.6 L127.7,18.5 C127.7,19.5 126.7,20 125.7,20 L121,20 C120,20 119.2,19.5 119.2,18.5 Z"/><path d="M123.3,-23.5 L123.3,19.5" fill="none" stroke-width="0.7"/><path d="M-7.6,-8.6 C-6,-12.4 -1,-13.2 2.2,-11.6 C6.2,-9.2 8.8,-3.2 8.8,2.8 C8.8,8.2 6.6,12.6 2.4,12.4 C-2.2,12.1 -6.6,9 -7.9,4 C-8.8,0 -8.6,-5 -7.6,-8.6 Z" stroke-width="1.15"/></g></g><g clip-path="url(#c7)"><text x="764.8" y="536" font-size="15" fill="#2a2a2a" stroke="#2a2a2a" stroke-width="0.25" textLength="38.5" lengthAdjust="spacingAndGlyphs">Шаг 6</text><g transform="translate(700.9,0)" stroke="#707070" stroke-width="1.5"><line x1="9.8" y1="573" x2="10.5" y2="955.5"/><line x1="68.2" y1="575.6" x2="68.7" y2="936"/><line x1="117.6" y1="578" x2="118.5" y2="920"/><line x1="166.3" y1="581" x2="167" y2="904.5"/><line x1="212.4" y1="582.1" x2="212.6" y2="888.5"/><line x1="255.6" y1="582.7" x2="256.2" y2="876"/><line x1="301.6" y1="581.5" x2="302.5" y2="857.5"/><line x1="14.1" y1="603.9" x2="271.9" y2="567.1"/><line x1="7.4" y1="656" x2="340" y2="606.2"/><line x1="6.2" y1="713.9" x2="341" y2="651"/><line x1="6.2" y1="773" x2="342" y2="698.4"/><line x1="8" y1="834.5" x2="341.9" y2="748"/><line x1="10" y1="893.7" x2="341.9" y2="792.1"/><line x1="11" y1="955.5" x2="343.6" y2="844.7"/></g><g transform="translate(826.6,731) scale(1.0)" stroke="#222" stroke-width="1.00" fill="#fff"><path d="M-31.71,3.73 L-31.70,2.33 L-31.60,0.87 L-31.42,-0.62 L-31.15,-2.15 L-30.79,-3.70 L-30.36,-5.27 L-29.84,-6.84 L-29.25,-8.42 L-28.58,-10.00 L-27.85,-11.56 L-27.04,-13.10 L-26.17,-14.61 L-25.24,-16.09 L-24.26,-17.52 L-23.23,-18.91 L-22.15,-20.24 L-21.03,-21.50 L-19.88,-22.70 L-18.70,-23.82 L-17.50,-24.86 L-16.28,-25.81 L-15.05,-26.68 L-13.81,-27.45 L-12.58,-28.12 L-11.35,-28.69 L-10.13,-29.16 L-8.93,-29.51 L-7.76,-29.77 L-6.62,-29.91 L-5.52,-29.94 L-4.45,-29.86 L-3.43,-29.67 L-2.47,-29.38 L-1.56,-28.97 L12.44,-21.67 L13.29,-21.16 L14.08,-20.55 L14.79,-19.83 L15.44,-19.02 L16.01,-18.12 L16.50,-17.13 L16.91,-16.05 L17.24,-14.90 L17.48,-13.68 L17.64,-12.38 L17.71,-11.03 L17.70,-9.63 L17.60,-8.17 L17.42,-6.68 L17.15,-5.15 L16.79,-3.60 L16.36,-2.03 L15.84,-0.46 L15.25,1.12 L14.58,2.70 L13.85,4.26 L13.04,5.80 L12.17,7.31 L11.24,8.79 L10.26,10.22 L9.23,11.61 L8.15,12.94 L7.03,14.20 L5.88,15.40 L4.70,16.52 L3.50,17.56 L2.28,18.51 L1.05,19.38 L-0.19,20.15 L-1.42,20.82 L-2.65,21.39 L-3.87,21.86 L-5.07,22.21 L-6.24,22.47 L-7.38,22.61 L-8.48,22.64 L-9.55,22.56 L-10.57,22.37 L-11.53,22.08 L-12.44,21.67 L-26.44,14.37 L-27.29,13.86 L-28.08,13.25 L-28.79,12.53 L-29.44,11.72 L-30.01,10.82 L-30.50,9.83 L-30.91,8.75 L-31.24,7.60 L-31.48,6.38 L-31.64,5.08 Z"/><ellipse cx="0" cy="0" rx="14.2" ry="25.0" transform="rotate(31)"/><ellipse cx="0" cy="0.6" rx="8.2" ry="14.2" transform="rotate(31 0 0.6)" stroke="#444" stroke-width="1.0"/><path d="M-7.79,1.56 L-7.76,0.81 L-7.70,0.06 L-7.60,-0.69 L-7.46,-1.44 L-7.29,-2.19 L-7.09,-2.93 L-6.86,-3.66 L-6.59,-4.38 L-6.30,-5.07 L-5.97,-5.74 L-5.62,-6.39 L-5.25,-7.01 L-4.85,-7.59 L-4.43,-8.14 L-3.99,-8.66 L-3.54,-9.13 L-3.07,-9.56 L-2.58,-9.95 L-2.09,-10.30 L-1.59,-10.59 L-1.09,-10.84 L-0.58,-11.03 L-0.07,-11.17 L0.44,-11.27 L0.94,-11.31 L1.44,-11.29 L1.92,-11.23 L2.40,-11.11 L2.86,-10.94 L3.30,-10.72 L14.90,-3.63 L15.33,-3.37 L15.74,-3.06 L16.12,-2.70 L16.48,-2.30 L16.82,-1.86 L17.12,-1.38 L17.40,-0.86 L17.65,-0.31 L17.87,0.27 L18.05,0.89 L18.20,1.52 L18.32,2.19 L18.40,2.87 L18.45,3.56 L18.46,4.27 L18.44,4.99 L18.38,5.72 L18.28,6.45 L18.15,7.17 L17.99,7.89 L17.80,8.61 L17.57,9.31 L17.31,9.99 L17.02,10.66 L16.71,11.31 L16.36,11.93 L15.99,12.52 L15.60,13.09 L15.19,13.62 L14.75,14.11 L14.30,14.56 L13.84,14.98 L13.36,15.35 L12.87,15.67 L12.38,15.95 L11.87,16.19 L11.37,16.37 L10.86,16.51 L10.35,16.59 L9.85,16.62 L9.36,16.61 L8.87,16.54 L8.40,16.42 L7.94,16.25 L7.50,16.03 L-4.30,9.72 L-4.73,9.45 L-5.13,9.13 L-5.51,8.76 L-5.87,8.35 L-6.20,7.90 L-6.50,7.40 L-6.78,6.87 L-7.02,6.30 L-7.23,5.70 L-7.41,5.06 L-7.56,4.40 L-7.67,3.72 L-7.75,3.02 L-7.79,2.29 Z" fill="#3a3a3a" stroke="#222"/><path d="M1,-9 C-2,-3 -1.5,5 2,10 M4,-9 C1,-3 1.5,5 5,11 M7,-6 C4,-1 4.5,7 8,13" fill="none" stroke="#666" stroke-width="0.6"/><ellipse cx="11.2" cy="6.2" rx="7.0" ry="10.6" transform="rotate(14 11.2 6.2)" fill="#fff" stroke="#222" stroke-width="1.3"/></g><g transform="translate(932,697.9) scale(1.0)" stroke="#222" stroke-width="1.00" fill="#fff"><path d="M-31.71,3.73 L-31.70,2.33 L-31.60,0.87 L-31.42,-0.62 L-31.15,-2.15 L-30.79,-3.70 L-30.36,-5.27 L-29.84,-6.84 L-29.25,-8.42 L-28.58,-10.00 L-27.85,-11.56 L-27.04,-13.10 L-26.17,-14.61 L-25.24,-16.09 L-24.26,-17.52 L-23.23,-18.91 L-22.15,-20.24 L-21.03,-21.50 L-19.88,-22.70 L-18.70,-23.82 L-17.50,-24.86 L-16.28,-25.81 L-15.05,-26.68 L-13.81,-27.45 L-12.58,-28.12 L-11.35,-28.69 L-10.13,-29.16 L-8.93,-29.51 L-7.76,-29.77 L-6.62,-29.91 L-5.52,-29.94 L-4.45,-29.86 L-3.43,-29.67 L-2.47,-29.38 L-1.56,-28.97 L12.44,-21.67 L13.29,-21.16 L14.08,-20.55 L14.79,-19.83 L15.44,-19.02 L16.01,-18.12 L16.50,-17.13 L16.91,-16.05 L17.24,-14.90 L17.48,-13.68 L17.64,-12.38 L17.71,-11.03 L17.70,-9.63 L17.60,-8.17 L17.42,-6.68 L17.15,-5.15 L16.79,-3.60 L16.36,-2.03 L15.84,-0.46 L15.25,1.12 L14.58,2.70 L13.85,4.26 L13.04,5.80 L12.17,7.31 L11.24,8.79 L10.26,10.22 L9.23,11.61 L8.15,12.94 L7.03,14.20 L5.88,15.40 L4.70,16.52 L3.50,17.56 L2.28,18.51 L1.05,19.38 L-0.19,20.15 L-1.42,20.82 L-2.65,21.39 L-3.87,21.86 L-5.07,22.21 L-6.24,22.47 L-7.38,22.61 L-8.48,22.64 L-9.55,22.56 L-10.57,22.37 L-11.53,22.08 L-12.44,21.67 L-26.44,14.37 L-27.29,13.86 L-28.08,13.25 L-28.79,12.53 L-29.44,11.72 L-30.01,10.82 L-30.50,9.83 L-30.91,8.75 L-31.24,7.60 L-31.48,6.38 L-31.64,5.08 Z"/><ellipse cx="0" cy="0" rx="14.2" ry="25.0" transform="rotate(31)"/><ellipse cx="0" cy="0.6" rx="8.2" ry="14.2" transform="rotate(31 0 0.6)" stroke="#444" stroke-width="1.0"/><path d="M-7.79,1.56 L-7.76,0.81 L-7.70,0.06 L-7.60,-0.69 L-7.46,-1.44 L-7.29,-2.19 L-7.09,-2.93 L-6.86,-3.66 L-6.59,-4.38 L-6.30,-5.07 L-5.97,-5.74 L-5.62,-6.39 L-5.25,-7.01 L-4.85,-7.59 L-4.43,-8.14 L-3.99,-8.66 L-3.54,-9.13 L-3.07,-9.56 L-2.58,-9.95 L-2.09,-10.30 L-1.59,-10.59 L-1.09,-10.84 L-0.58,-11.03 L-0.07,-11.17 L0.44,-11.27 L0.94,-11.31 L1.44,-11.29 L1.92,-11.23 L2.40,-11.11 L2.86,-10.94 L3.30,-10.72 L14.90,-3.63 L15.33,-3.37 L15.74,-3.06 L16.12,-2.70 L16.48,-2.30 L16.82,-1.86 L17.12,-1.38 L17.40,-0.86 L17.65,-0.31 L17.87,0.27 L18.05,0.89 L18.20,1.52 L18.32,2.19 L18.40,2.87 L18.45,3.56 L18.46,4.27 L18.44,4.99 L18.38,5.72 L18.28,6.45 L18.15,7.17 L17.99,7.89 L17.80,8.61 L17.57,9.31 L17.31,9.99 L17.02,10.66 L16.71,11.31 L16.36,11.93 L15.99,12.52 L15.60,13.09 L15.19,13.62 L14.75,14.11 L14.30,14.56 L13.84,14.98 L13.36,15.35 L12.87,15.67 L12.38,15.95 L11.87,16.19 L11.37,16.37 L10.86,16.51 L10.35,16.59 L9.85,16.62 L9.36,16.61 L8.87,16.54 L8.40,16.42 L7.94,16.25 L7.50,16.03 L-4.30,9.72 L-4.73,9.45 L-5.13,9.13 L-5.51,8.76 L-5.87,8.35 L-6.20,7.90 L-6.50,7.40 L-6.78,6.87 L-7.02,6.30 L-7.23,5.70 L-7.41,5.06 L-7.56,4.40 L-7.67,3.72 L-7.75,3.02 L-7.79,2.29 Z" fill="#3a3a3a" stroke="#222"/><path d="M1,-9 C-2,-3 -1.5,5 2,10 M4,-9 C1,-3 1.5,5 5,11 M7,-6 C4,-1 4.5,7 8,13" fill="none" stroke="#666" stroke-width="0.6"/><ellipse cx="11.2" cy="6.2" rx="7.0" ry="10.6" transform="rotate(14 11.2 6.2)" fill="#fff" stroke="#222" stroke-width="1.3"/></g><g transform="translate(853,732) rotate(0) scale(1.0)" fill="#fff" stroke="#222" stroke-width="1.50" stroke-linejoin="round"><path d="M38.2,3.5 L28.6,15 L24.3,11.6 C15,18 9,28 9,36 C9,42 13,44 18,42 L25.7,38 L33.4,43.3 C28,49 20,52 13.3,51.4 C6,50 1,44 0.8,34.1 C1,23 9,12 17.6,5.9 L12.3,2.5 C20,-0.5 30,-0.8 38.2,3.5 Z"/><path d="M9,36 C8.5,41 10.5,47 13.3,51.4" fill="none"/></g><g transform="translate(876.3,773.8) scale(1.17)" stroke="#222" stroke-width="0.98" fill="#fff" stroke-linejoin="round"><ellipse cx="-4.2" cy="-3.6" rx="8.2" ry="12.6" transform="rotate(-12 -4.2 -3.6)"/><path d="M1,-17.6 L106.5,-46.9 L110.7,-47.9 C116,-46 119.5,-42.5 120.5,-38.8 C121,-35 120,-27 118.3,-23.2 L7.6,11.1 Z"/><path d="M7.6,-4.9 L115,-37.1" fill="none"/><path d="M9,12.4 L117,-20.5" fill="none" stroke-width="0.6"/><path d="M65.3,-36.2 C65.5,-43 79,-44.5 80.9,-40.3" /><path d="M68,-38 C70,-41 76,-42 79,-40" fill="none" stroke-width="0.6"/><path d="M42.5,-0.8 L54.5,-3.8 L54.8,1.8 C53.5,5 45,6.8 42.7,3.5 Z" fill="#2e2e2e"/><path d="M107.7,-48.4 L120.5,-52 C126,-53 130,-49.5 131.9,-45.6 C133.2,-43.5 133.6,-42 133.6,-40.9 L133.6,-29.1 C133.6,-27 133,-25.8 131.9,-24.9 L118.3,-22.7 C120,-27 121,-35 120.5,-38.8 C119.5,-42.5 116,-46 110.7,-47.9 Z"/><path d="M106.5,-46.9 C110,-45.5 113.5,-42 115.4,-37.6 C116.5,-34 116.8,-27 116.6,-22.7" fill="none" stroke-width="1.6"/><path d="M121.3,-38.4 L131.5,-41.6" fill="none"/><path d="M119.2,-22.9 L127.7,-24.6 L127.7,18.5 C127.7,19.5 126.7,20 125.7,20 L121,20 C120,20 119.2,19.5 119.2,18.5 Z"/><path d="M123.3,-23.5 L123.3,19.5" fill="none" stroke-width="0.7"/><path d="M-7.6,-8.6 C-6,-12.4 -1,-13.2 2.2,-11.6 C6.2,-9.2 8.8,-3.2 8.8,2.8 C8.8,8.2 6.6,12.6 2.4,12.4 C-2.2,12.1 -6.6,9 -7.9,4 C-8.8,0 -8.6,-5 -7.6,-8.6 Z" stroke-width="1.15"/></g><path d="M824.3,783 L841,783.5 L838.4,787.8 L850.9,793.8 L847,800.6 L835.9,793.3 L832.9,797.2 Z" fill="#fff" stroke="#111" stroke-width="1.3" stroke-linejoin="miter"/><circle cx="900.5" cy="817.4" r="10.6" fill="#fff" stroke="#8a8a8a" stroke-width="1.1"/><text x="900.5" y="822.6" font-size="14" font-weight="bold" text-anchor="middle" fill="#111" stroke="#111" stroke-width="0.25">A</text><g fill="#fff" stroke="#1a1a1a" stroke-width="1.3" stroke-linejoin="round"><path d="M767.6,879.7 L787.1,811.6 C786,805 782,795 782.7,786.4 C784,779 791,775 796.6,775 L801,775.7 L796.6,783.9 L800.4,788.9 L807.9,780.7 C810,781 811.5,782.5 811.1,786 L811.7,800.3 C808,804 805,806 802.9,806.6 L797.8,813.5 L780.2,887.3 A6.6,6.6 0 1 1 767.6,879.7 Z"/><circle cx="774.1" cy="884.1" r="2.6"/><path d="M776.5,878 L791.5,814.5 L794.5,815 L779.5,879 Z" fill="#e6e6e6" stroke="#555" stroke-width="0.7"/><rect x="-4.6" y="-3.4" width="9.2" height="6.8" rx="1.2" transform="translate(796.6,800.3) rotate(28)" fill="#666" stroke="#333" stroke-width="0.9"/><path d="M787.5,795 C792,799 800,803 807,802" fill="none" stroke-width="0.8"/></g></g><g clip-path="url(#c8)"><text x="1114.5" y="536" font-size="15" fill="#2a2a2a" stroke="#2a2a2a" stroke-width="0.25" textLength="38.5" lengthAdjust="spacingAndGlyphs">Шаг 7</text><g transform="translate(1050.8,0)" stroke="#707070" stroke-width="1.5"><line x1="9.8" y1="573" x2="10.5" y2="955.5"/><line x1="68.2" y1="575.6" x2="68.7" y2="936"/><line x1="117.6" y1="578" x2="118.5" y2="920"/><line x1="166.3" y1="581" x2="167" y2="904.5"/><line x1="212.4" y1="582.1" x2="212.6" y2="888.5"/><line x1="255.6" y1="582.7" x2="256.2" y2="876"/><line x1="301.6" y1="581.5" x2="302.5" y2="857.5"/><line x1="14.1" y1="603.9" x2="271.9" y2="567.1"/><line x1="7.4" y1="656" x2="340" y2="606.2"/><line x1="6.2" y1="713.9" x2="341" y2="651"/><line x1="6.2" y1="773" x2="342" y2="698.4"/><line x1="8" y1="834.5" x2="341.9" y2="748"/><line x1="10" y1="893.7" x2="341.9" y2="792.1"/><line x1="11" y1="955.5" x2="343.6" y2="844.7"/></g><g transform="translate(1185.5,727.2) scale(1.0)" stroke="#222" stroke-width="1.00" fill="#fff"><path d="M-31.71,3.73 L-31.70,2.33 L-31.60,0.87 L-31.42,-0.62 L-31.15,-2.15 L-30.79,-3.70 L-30.36,-5.27 L-29.84,-6.84 L-29.25,-8.42 L-28.58,-10.00 L-27.85,-11.56 L-27.04,-13.10 L-26.17,-14.61 L-25.24,-16.09 L-24.26,-17.52 L-23.23,-18.91 L-22.15,-20.24 L-21.03,-21.50 L-19.88,-22.70 L-18.70,-23.82 L-17.50,-24.86 L-16.28,-25.81 L-15.05,-26.68 L-13.81,-27.45 L-12.58,-28.12 L-11.35,-28.69 L-10.13,-29.16 L-8.93,-29.51 L-7.76,-29.77 L-6.62,-29.91 L-5.52,-29.94 L-4.45,-29.86 L-3.43,-29.67 L-2.47,-29.38 L-1.56,-28.97 L12.44,-21.67 L13.29,-21.16 L14.08,-20.55 L14.79,-19.83 L15.44,-19.02 L16.01,-18.12 L16.50,-17.13 L16.91,-16.05 L17.24,-14.90 L17.48,-13.68 L17.64,-12.38 L17.71,-11.03 L17.70,-9.63 L17.60,-8.17 L17.42,-6.68 L17.15,-5.15 L16.79,-3.60 L16.36,-2.03 L15.84,-0.46 L15.25,1.12 L14.58,2.70 L13.85,4.26 L13.04,5.80 L12.17,7.31 L11.24,8.79 L10.26,10.22 L9.23,11.61 L8.15,12.94 L7.03,14.20 L5.88,15.40 L4.70,16.52 L3.50,17.56 L2.28,18.51 L1.05,19.38 L-0.19,20.15 L-1.42,20.82 L-2.65,21.39 L-3.87,21.86 L-5.07,22.21 L-6.24,22.47 L-7.38,22.61 L-8.48,22.64 L-9.55,22.56 L-10.57,22.37 L-11.53,22.08 L-12.44,21.67 L-26.44,14.37 L-27.29,13.86 L-28.08,13.25 L-28.79,12.53 L-29.44,11.72 L-30.01,10.82 L-30.50,9.83 L-30.91,8.75 L-31.24,7.60 L-31.48,6.38 L-31.64,5.08 Z"/><ellipse cx="0" cy="0" rx="14.2" ry="25.0" transform="rotate(31)"/><ellipse cx="0" cy="0.6" rx="8.2" ry="14.2" transform="rotate(31 0 0.6)" stroke="#444" stroke-width="1.1"/><ellipse cx="0" cy="0.6" rx="7.0" ry="12.9" transform="rotate(31 0 0.6)" stroke="#777" stroke-width="1.3" fill="none"/><ellipse cx="0" cy="0.6" rx="6.1" ry="12.0" transform="rotate(31 0 0.6)" stroke="#444" stroke-width="0.7" fill="none"/><path d="M3.3,-9.2 C1,-3 -3,3 -5.9,7.2" fill="none" stroke-width="0.8"/></g><g transform="translate(1273.6,701.1) scale(1.0)" stroke="#222" stroke-width="1.00" fill="#fff"><path d="M-31.71,3.73 L-31.70,2.33 L-31.60,0.87 L-31.42,-0.62 L-31.15,-2.15 L-30.79,-3.70 L-30.36,-5.27 L-29.84,-6.84 L-29.25,-8.42 L-28.58,-10.00 L-27.85,-11.56 L-27.04,-13.10 L-26.17,-14.61 L-25.24,-16.09 L-24.26,-17.52 L-23.23,-18.91 L-22.15,-20.24 L-21.03,-21.50 L-19.88,-22.70 L-18.70,-23.82 L-17.50,-24.86 L-16.28,-25.81 L-15.05,-26.68 L-13.81,-27.45 L-12.58,-28.12 L-11.35,-28.69 L-10.13,-29.16 L-8.93,-29.51 L-7.76,-29.77 L-6.62,-29.91 L-5.52,-29.94 L-4.45,-29.86 L-3.43,-29.67 L-2.47,-29.38 L-1.56,-28.97 L12.44,-21.67 L13.29,-21.16 L14.08,-20.55 L14.79,-19.83 L15.44,-19.02 L16.01,-18.12 L16.50,-17.13 L16.91,-16.05 L17.24,-14.90 L17.48,-13.68 L17.64,-12.38 L17.71,-11.03 L17.70,-9.63 L17.60,-8.17 L17.42,-6.68 L17.15,-5.15 L16.79,-3.60 L16.36,-2.03 L15.84,-0.46 L15.25,1.12 L14.58,2.70 L13.85,4.26 L13.04,5.80 L12.17,7.31 L11.24,8.79 L10.26,10.22 L9.23,11.61 L8.15,12.94 L7.03,14.20 L5.88,15.40 L4.70,16.52 L3.50,17.56 L2.28,18.51 L1.05,19.38 L-0.19,20.15 L-1.42,20.82 L-2.65,21.39 L-3.87,21.86 L-5.07,22.21 L-6.24,22.47 L-7.38,22.61 L-8.48,22.64 L-9.55,22.56 L-10.57,22.37 L-11.53,22.08 L-12.44,21.67 L-26.44,14.37 L-27.29,13.86 L-28.08,13.25 L-28.79,12.53 L-29.44,11.72 L-30.01,10.82 L-30.50,9.83 L-30.91,8.75 L-31.24,7.60 L-31.48,6.38 L-31.64,5.08 Z"/><ellipse cx="0" cy="0" rx="14.2" ry="25.0" transform="rotate(31)"/><ellipse cx="0" cy="0.6" rx="8.2" ry="14.2" transform="rotate(31 0 0.6)" stroke="#444" stroke-width="1.1"/><ellipse cx="0" cy="0.6" rx="7.0" ry="12.9" transform="rotate(31 0 0.6)" stroke="#777" stroke-width="1.3" fill="none"/><ellipse cx="0" cy="0.6" rx="6.1" ry="12.0" transform="rotate(31 0 0.6)" stroke="#444" stroke-width="0.7" fill="none"/><path d="M3.3,-9.2 C1,-3 -3,3 -5.9,7.2" fill="none" stroke-width="0.8"/></g><g transform="translate(1190.8,739.5) scale(1.17)" stroke="#222" stroke-width="0.98" fill="#fff" stroke-linejoin="round"><ellipse cx="-4.2" cy="-3.6" rx="8.2" ry="12.6" transform="rotate(-12 -4.2 -3.6)"/><path d="M1,-17.6 L106.5,-46.9 L110.7,-47.9 C116,-46 119.5,-42.5 120.5,-38.8 C121,-35 120,-27 118.3,-23.2 L7.6,11.1 Z"/><path d="M7.6,-4.9 L115,-37.1" fill="none"/><path d="M9,12.4 L117,-20.5" fill="none" stroke-width="0.6"/><path d="M65.3,-36.2 C65.5,-43 79,-44.5 80.9,-40.3" /><path d="M68,-38 C70,-41 76,-42 79,-40" fill="none" stroke-width="0.6"/><path d="M42.5,-0.8 L54.5,-3.8 L54.8,1.8 C53.5,5 45,6.8 42.7,3.5 Z" fill="#2e2e2e"/><path d="M107.7,-48.4 L120.5,-52 C126,-53 130,-49.5 131.9,-45.6 C133.2,-43.5 133.6,-42 133.6,-40.9 L133.6,-29.1 C133.6,-27 133,-25.8 131.9,-24.9 L118.3,-22.7 C120,-27 121,-35 120.5,-38.8 C119.5,-42.5 116,-46 110.7,-47.9 Z"/><path d="M106.5,-46.9 C110,-45.5 113.5,-42 115.4,-37.6 C116.5,-34 116.8,-27 116.6,-22.7" fill="none" stroke-width="1.6"/><path d="M121.3,-38.4 L131.5,-41.6" fill="none"/><path d="M119.2,-22.9 L127.7,-24.6 L127.7,18.5 C127.7,19.5 126.7,20 125.7,20 L121,20 C120,20 119.2,19.5 119.2,18.5 Z"/><path d="M123.3,-23.5 L123.3,19.5" fill="none" stroke-width="0.7"/><path d="M-7.6,-8.6 C-6,-12.4 -1,-13.2 2.2,-11.6 C6.2,-9.2 8.8,-3.2 8.8,2.8 C8.8,8.2 6.6,12.6 2.4,12.4 C-2.2,12.1 -6.6,9 -7.9,4 C-8.8,0 -8.6,-5 -7.6,-8.6 Z" stroke-width="1.15"/></g><circle cx="1339.5" cy="794" r="26.4" fill="#fff"/><path d="M1339.3,767.6 A26.6,26.6 0 1 0 1365.9,794.2" fill="none" stroke="#222" stroke-width="1.5"/><path d="M1339.3,767.6 A26.6,26.6 0 0 1 1365.9,794.2" fill="none" stroke="#222" stroke-width="1.5" stroke-dasharray="3 2.6"/><path d="M1339.3,770.9 L1339.3,797 M1337.3,794.4 L1366.2,794.4" fill="none" stroke="#222" stroke-width="1.2"/><text x="1321.1" y="834.4" font-size="13.5" font-weight="bold" fill="#111" textLength="38.4" lengthAdjust="spacingAndGlyphs">3 sec.</text><rect x="1066.4" y="562.7" width="135.6" height="73.7" rx="8" fill="#fff" stroke="#8a8a8a" stroke-width="1.4"/><g transform="translate(1108.9,598.7) scale(1.07)"><rect x="-33.1" y="-7.7" width="69.6" height="14.8" fill="#fff"/><rect x="-33.1" y="-7.2" width="11" height="13.8" fill="#bdbdbd"/><rect x="-20.5" y="-7.2" width="2.5" height="13.8" fill="#c8c8c8"/><rect x="20.2" y="-7.2" width="16.3" height="13.8" fill="#b5b5b5"/><g stroke="#555" stroke-width="1.1"><line x1="-33.1" y1="-7.4" x2="36.5" y2="-7.4"/><line x1="-33.1" y1="7.1" x2="36.5" y2="7.1"/><line x1="-21.6" y1="-7.4" x2="-21.6" y2="7.1" stroke-width="1.4"/><line x1="-17.6" y1="-7.4" x2="-17.6" y2="7.1"/><line x1="19.4" y1="-7.4" x2="19.4" y2="7.1" stroke-width="1.6" stroke="#666"/></g><g fill="#fff" stroke="#111" stroke-width="1.9" stroke-linejoin="miter"><path d="M-16.2,-19.8 L-3.5,-25.5 L1.1,-5.8 L-4.7,-3.9 Z"/><path d="M3.2,25.7 L16.5,20.3 L4.7,4.9 L-0.9,5.9 Z"/><circle r="6.2" stroke-width="1.4"/></g><path d="M-11.1,-17.3 L-7.4,-14.5 C-13.5,-10 -16,-4 -15,1.5 C-14,7.5 -9,12 -3.6,12.8 L-1.9,10.3 L5.5,12.8 L-1.2,19.2 L-2.3,16.8 C-11,16.5 -18.7,9 -18.7,0 C-18.7,-7 -15.5,-13.5 -11.1,-17.3 Z" fill="#fff" stroke="#3a3a3a" stroke-width="0.9"/></g><path transform="translate(1149.5,598.9) scale(0.58)" d="M0,-3.1 L9.7,-3.1 L9.7,-5.6 L19.3,0 L9.7,5.6 L9.7,3.1 L0,3.1 Z" fill="#fff" stroke="#444" stroke-width="1.6" stroke-linejoin="miter"/><g transform="translate(1178.7,598.9)"><circle r="16.9" fill="#a8a8a8" stroke="#111" stroke-width="2.2"/><g transform="scale(0.8086124401913876)"><path d="M0,-14.5 C3,-8 9.1,-1 9.1,4.7 C9.1,10 5,13.3 0,13.3 C-5,13.3 -9.1,10 -9.1,4.7 C-9.1,-1 -3,-8 0,-14.5 Z" fill="#fff" stroke="#333" stroke-width="1.2"/><path d="M2.5,10 C5,9 6.5,7 6.8,5" fill="none" stroke="#999" stroke-width="0.9"/></g></g><text x="1176.8" y="578.8" font-size="10" font-weight="bold" text-anchor="middle" fill="#111" textLength="14" lengthAdjust="spacingAndGlyphs">ON</text></g><g fill="#cfcfcf"><circle cx="308.2" cy="904.6" r="6"/><path d="M301.9,905.6 C305.2,903 310.2,903.5 314.59999999999997,902" stroke="#fff" stroke-width="1.1" fill="none"/><text x="315.8" y="910" font-size="14" textLength="61.2" lengthAdjust="spacingAndGlyphs">AQUANET</text></g><g fill="#cfcfcf"><circle cx="410.9" cy="904.6" r="6"/><path d="M404.59999999999997,905.6 C407.9,903 412.9,903.5 417.29999999999995,902" stroke="#fff" stroke-width="1.1" fill="none"/><text x="418.5" y="910" font-size="14" textLength="61.2" lengthAdjust="spacingAndGlyphs">AQUANET</text></g><g fill="#cfcfcf"><circle cx="514" cy="904.6" r="6"/><path d="M507.7,905.6 C511,903 516,903.5 520.4,902" stroke="#fff" stroke-width="1.1" fill="none"/><text x="521.6" y="910" font-size="14" textLength="61.2" lengthAdjust="spacingAndGlyphs">AQUANET</text></g><g fill="#cfcfcf"><circle cx="617" cy="904.6" r="6"/><path d="M610.7,905.6 C614,903 619,903.5 623.4,902" stroke="#fff" stroke-width="1.1" fill="none"/><text x="624.6" y="910" font-size="14" textLength="61.2" lengthAdjust="spacingAndGlyphs">AQUANET</text></g><g fill="#cfcfcf"><circle cx="720" cy="904.6" r="6"/><path d="M713.7,905.6 C717,903 722,903.5 726.4,902" stroke="#fff" stroke-width="1.1" fill="none"/><text x="727.6" y="910" font-size="14" textLength="61.2" lengthAdjust="spacingAndGlyphs">AQUANET</text></g><g fill="#cfcfcf"><circle cx="823" cy="904.6" r="6"/><path d="M816.7,905.6 C820,903 825,903.5 829.4,902" stroke="#fff" stroke-width="1.1" fill="none"/><text x="830.6" y="910" font-size="14" textLength="61.2" lengthAdjust="spacingAndGlyphs">AQUANET</text></g><g fill="#cfcfcf"><circle cx="926" cy="904.6" r="6"/><path d="M919.7,905.6 C923,903 928,903.5 932.4,902" stroke="#fff" stroke-width="1.1" fill="none"/><text x="933.6" y="910" font-size="14" textLength="61.2" lengthAdjust="spacingAndGlyphs">AQUANET</text></g><g fill="#cfcfcf"><circle cx="1029" cy="904.6" r="6"/><path d="M1022.7,905.6 C1026,903 1031,903.5 1035.4,902" stroke="#fff" stroke-width="1.1" fill="none"/><text x="1036.6" y="910" font-size="14" textLength="61.2" lengthAdjust="spacingAndGlyphs">AQUANET</text></g><rect x="0" y="0" width="1400" height="1" fill="#e8e8e8"/><g fill="#111"><rect x="0" y="1" width="1400" height="1.6"/><rect x="0" y="1" width="2" height="989"/><rect x="1398.2" y="1" width="1.8" height="989"/><rect x="0" y="988.5" width="1400" height="1.6"/><rect x="349.6" y="1" width="1.7" height="989"/><rect x="699" y="1" width="2" height="989"/><rect x="1048.9" y="1" width="1.6" height="989"/><rect x="0" y="494.5" width="1400" height="2.1"/></g></svg></body></html>
